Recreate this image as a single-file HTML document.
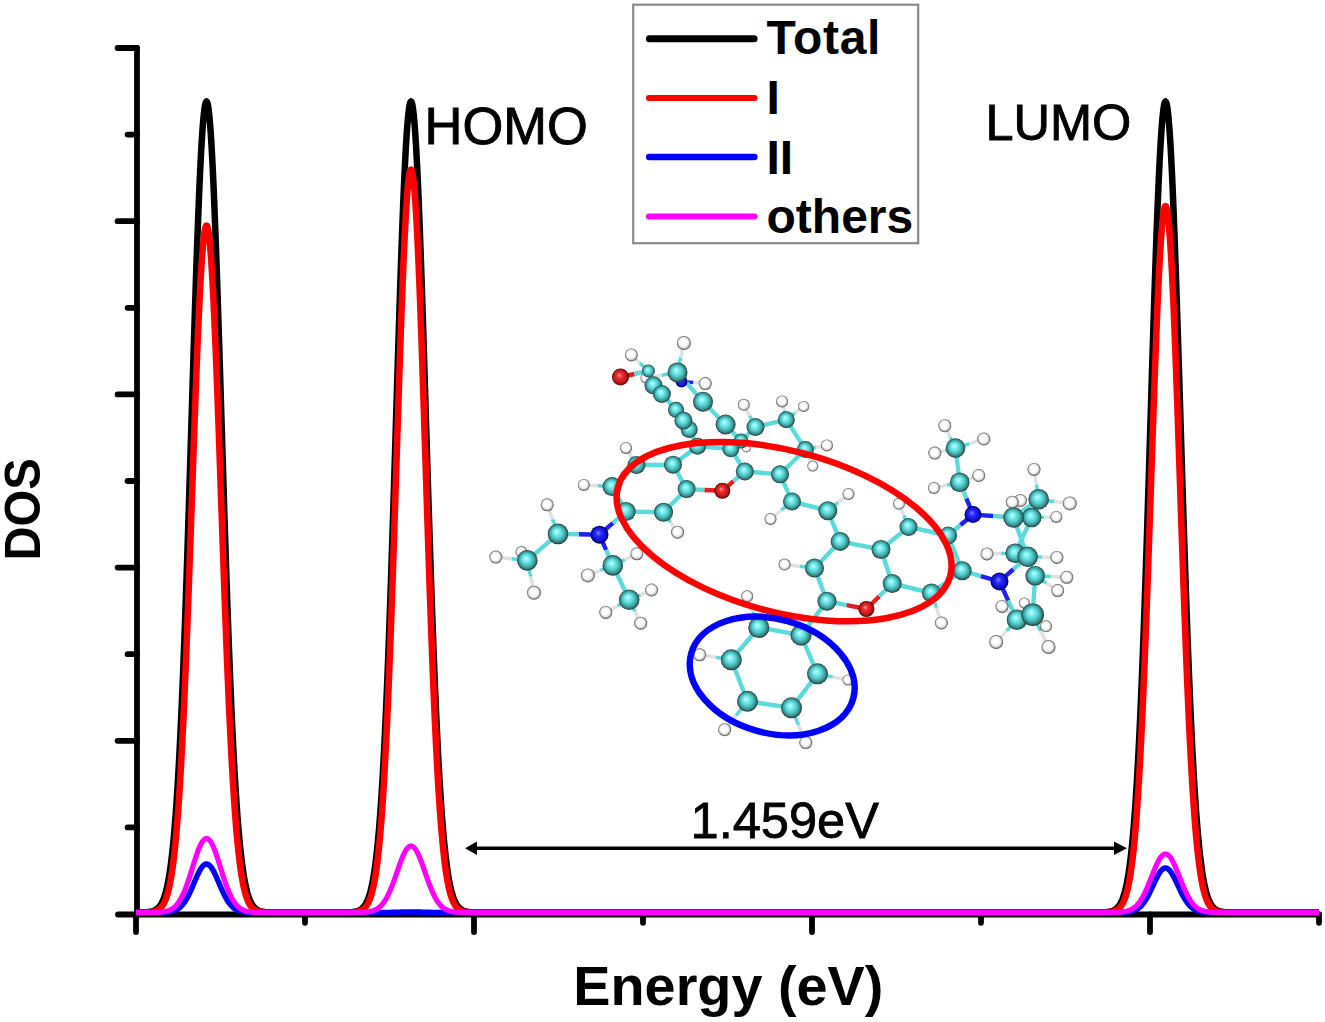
<!DOCTYPE html>
<html><head><meta charset="utf-8"><style>
html,body{margin:0;padding:0;background:#fff;}
body{width:1325px;height:1022px;overflow:hidden;}
svg{display:block;}
text{font-family:"Liberation Sans",sans-serif;}
</style></head><body>
<svg width="1325" height="1022" viewBox="0 0 1325 1022">
<rect width="1325" height="1022" fill="#fff"/>

<g stroke="#000" stroke-width="5.8" stroke-linecap="round" stroke-linejoin="round" fill="none">
<path d="M137,48 L137,914.5 L1319.1,914.5"/>
<path d="M117.6,48.0 L137,48.0"/>
<path d="M127.6,134.6 L137,134.6"/>
<path d="M117.6,221.2 L137,221.2"/>
<path d="M127.6,307.8 L137,307.8"/>
<path d="M117.6,394.4 L137,394.4"/>
<path d="M127.6,481.0 L137,481.0"/>
<path d="M117.6,567.6 L137,567.6"/>
<path d="M127.6,654.2 L137,654.2"/>
<path d="M117.6,740.8 L137,740.8"/>
<path d="M127.6,827.4 L137,827.4"/>
<path d="M136,914.5 L136,932"/>
<path d="M305,914.5 L305,922.8"/>
<path d="M474,914.5 L474,932"/>
<path d="M643,914.5 L643,922.8"/>
<path d="M812,914.5 L812,932"/>
<path d="M981,914.5 L981,922.8"/>
<path d="M1150,914.5 L1150,932"/>
<path d="M1319,914.5 L1319,922.8"/>
<path d="M118,914.5 L137,914.5"/>
</g>
<path d="M136.0,912.5 L144.0,912.4 L144.5,912.3 L145.0,912.3 L145.5,912.3 L146.0,912.3 L146.5,912.2 L147.0,912.2 L147.5,912.1 L148.0,912.1 L148.5,912.0 L149.0,912.0 L149.5,911.9 L150.0,911.8 L150.5,911.7 L151.0,911.6 L151.5,911.5 L152.0,911.4 L152.5,911.3 L153.0,911.1 L153.5,910.9 L154.0,910.7 L154.5,910.5 L155.0,910.3 L155.5,910.0 L156.0,909.7 L156.5,909.4 L157.0,909.0 L157.5,908.6 L158.0,908.1 L158.5,907.7 L159.0,907.1 L159.5,906.5 L160.0,905.9 L160.5,905.1 L161.0,904.4 L161.5,903.5 L162.0,902.5 L162.5,901.5 L163.0,900.4 L163.5,899.2 L164.0,897.9 L164.5,896.4 L165.0,894.8 L165.5,893.1 L166.0,891.3 L166.5,889.3 L167.0,887.2 L167.5,884.9 L168.0,882.4 L168.5,879.7 L169.0,876.9 L169.5,873.8 L170.0,870.5 L170.5,867.0 L171.0,863.2 L171.5,859.2 L172.0,854.9 L172.5,850.4 L173.0,845.5 L173.5,840.4 L174.0,834.9 L174.5,829.2 L175.0,823.1 L175.5,816.7 L176.0,809.9 L176.5,802.7 L177.0,795.2 L177.5,787.4 L178.0,779.1 L178.5,770.5 L179.0,761.4 L179.5,752.0 L180.0,742.2 L180.5,731.9 L181.0,721.3 L181.5,710.3 L182.0,698.8 L182.5,687.0 L183.0,674.8 L183.5,662.2 L184.0,649.2 L184.5,635.9 L185.0,622.2 L185.5,608.1 L186.0,593.8 L186.5,579.1 L187.0,564.1 L187.5,548.9 L188.0,533.4 L188.5,517.7 L189.0,501.9 L189.5,485.8 L190.0,469.6 L190.5,453.3 L191.0,437.0 L191.5,420.6 L192.0,404.2 L192.5,387.9 L193.0,371.6 L193.5,355.4 L194.0,339.4 L194.5,323.6 L195.0,308.0 L195.5,292.7 L196.0,277.7 L196.5,263.1 L197.0,248.9 L197.5,235.1 L198.0,221.8 L198.5,209.0 L199.0,196.8 L199.5,185.2 L200.0,174.2 L200.5,163.9 L201.0,154.2 L201.5,145.3 L202.0,137.2 L202.5,129.8 L203.0,123.3 L203.5,117.6 L204.0,112.7 L204.5,108.7 L205.0,105.5 L205.5,103.3 L206.0,102.0 L206.5,101.5 L207.0,102.0 L207.5,103.3 L208.0,105.5 L208.5,108.7 L209.0,112.7 L209.5,117.6 L210.0,123.3 L210.5,129.8 L211.0,137.2 L211.5,145.3 L212.0,154.2 L212.5,163.9 L213.0,174.2 L213.5,185.2 L214.0,196.8 L214.5,209.0 L215.0,221.8 L215.5,235.1 L216.0,248.9 L216.5,263.1 L217.0,277.7 L217.5,292.7 L218.0,308.0 L218.5,323.6 L219.0,339.4 L219.5,355.4 L220.0,371.6 L220.5,387.9 L221.0,404.2 L221.5,420.6 L222.0,437.0 L222.5,453.3 L223.0,469.6 L223.5,485.8 L224.0,501.9 L224.5,517.7 L225.0,533.4 L225.5,548.9 L226.0,564.1 L226.5,579.1 L227.0,593.8 L227.5,608.1 L228.0,622.2 L228.5,635.9 L229.0,649.2 L229.5,662.2 L230.0,674.8 L230.5,687.0 L231.0,698.8 L231.5,710.3 L232.0,721.3 L232.5,731.9 L233.0,742.2 L233.5,752.0 L234.0,761.4 L234.5,770.5 L235.0,779.1 L235.5,787.4 L236.0,795.2 L236.5,802.7 L237.0,809.9 L237.5,816.7 L238.0,823.1 L238.5,829.2 L239.0,834.9 L239.5,840.4 L240.0,845.5 L240.5,850.4 L241.0,854.9 L241.5,859.2 L242.0,863.2 L242.5,867.0 L243.0,870.5 L243.5,873.8 L244.0,876.9 L244.5,879.7 L245.0,882.4 L245.5,884.9 L246.0,887.2 L246.5,889.3 L247.0,891.3 L247.5,893.1 L248.0,894.8 L248.5,896.4 L249.0,897.9 L249.5,899.2 L250.0,900.4 L250.5,901.5 L251.0,902.5 L251.5,903.5 L252.0,904.4 L252.5,905.1 L253.0,905.9 L253.5,906.5 L254.0,907.1 L254.5,907.7 L255.0,908.1 L255.5,908.6 L256.0,909.0 L256.5,909.4 L257.0,909.7 L257.5,910.0 L258.0,910.3 L258.5,910.5 L259.0,910.7 L259.5,910.9 L260.0,911.1 L260.5,911.3 L261.0,911.4 L261.5,911.5 L262.0,911.6 L262.5,911.7 L263.0,911.8 L263.5,911.9 L264.0,912.0 L264.5,912.0 L265.0,912.1 L265.5,912.1 L266.0,912.2 L266.5,912.2 L267.0,912.3 L267.5,912.3 L268.0,912.3 L268.5,912.3 L269.0,912.4 L269.5,912.4 L270.0,912.4 L270.5,912.4 L271.0,912.4 L271.5,912.4 L272.0,912.4 L272.5,912.4 L273.0,912.5 L273.5,912.5 L274.0,912.5 L274.5,912.5 L275.0,912.5 L275.5,912.5 L276.0,912.5 L276.5,912.5 L284.5,912.5 L292.5,912.5 L300.5,912.5 L308.5,912.5 L316.5,912.5 L324.5,912.5 L332.5,912.5 L340.5,912.5 L348.5,912.4 L349.0,912.3 L349.5,912.3 L350.0,912.3 L350.5,912.3 L351.0,912.2 L351.5,912.2 L352.0,912.1 L352.5,912.1 L353.0,912.0 L353.5,912.0 L354.0,911.9 L354.5,911.8 L355.0,911.7 L355.5,911.6 L356.0,911.5 L356.5,911.4 L357.0,911.3 L357.5,911.1 L358.0,910.9 L358.5,910.7 L359.0,910.5 L359.5,910.3 L360.0,910.0 L360.5,909.7 L361.0,909.4 L361.5,909.0 L362.0,908.6 L362.5,908.1 L363.0,907.7 L363.5,907.1 L364.0,906.5 L364.5,905.9 L365.0,905.1 L365.5,904.4 L366.0,903.5 L366.5,902.5 L367.0,901.5 L367.5,900.4 L368.0,899.2 L368.5,897.9 L369.0,896.4 L369.5,894.8 L370.0,893.1 L370.5,891.3 L371.0,889.3 L371.5,887.2 L372.0,884.9 L372.5,882.4 L373.0,879.7 L373.5,876.9 L374.0,873.8 L374.5,870.5 L375.0,867.0 L375.5,863.2 L376.0,859.2 L376.5,854.9 L377.0,850.4 L377.5,845.5 L378.0,840.4 L378.5,834.9 L379.0,829.2 L379.5,823.1 L380.0,816.7 L380.5,809.9 L381.0,802.7 L381.5,795.2 L382.0,787.4 L382.5,779.1 L383.0,770.5 L383.5,761.4 L384.0,752.0 L384.5,742.2 L385.0,731.9 L385.5,721.3 L386.0,710.3 L386.5,698.8 L387.0,687.0 L387.5,674.8 L388.0,662.2 L388.5,649.2 L389.0,635.9 L389.5,622.2 L390.0,608.1 L390.5,593.8 L391.0,579.1 L391.5,564.1 L392.0,548.9 L392.5,533.4 L393.0,517.7 L393.5,501.9 L394.0,485.8 L394.5,469.6 L395.0,453.3 L395.5,437.0 L396.0,420.6 L396.5,404.2 L397.0,387.9 L397.5,371.6 L398.0,355.4 L398.5,339.4 L399.0,323.6 L399.5,308.0 L400.0,292.7 L400.5,277.7 L401.0,263.1 L401.5,248.9 L402.0,235.1 L402.5,221.8 L403.0,209.0 L403.5,196.8 L404.0,185.2 L404.5,174.2 L405.0,163.9 L405.5,154.2 L406.0,145.3 L406.5,137.2 L407.0,129.8 L407.5,123.3 L408.0,117.6 L408.5,112.7 L409.0,108.7 L409.5,105.5 L410.0,103.3 L410.5,102.0 L411.0,101.5 L411.5,102.0 L412.0,103.3 L412.5,105.5 L413.0,108.7 L413.5,112.7 L414.0,117.6 L414.5,123.3 L415.0,129.8 L415.5,137.2 L416.0,145.3 L416.5,154.2 L417.0,163.9 L417.5,174.2 L418.0,185.2 L418.5,196.8 L419.0,209.0 L419.5,221.8 L420.0,235.1 L420.5,248.9 L421.0,263.1 L421.5,277.7 L422.0,292.7 L422.5,308.0 L423.0,323.6 L423.5,339.4 L424.0,355.4 L424.5,371.6 L425.0,387.9 L425.5,404.2 L426.0,420.6 L426.5,437.0 L427.0,453.3 L427.5,469.6 L428.0,485.8 L428.5,501.9 L429.0,517.7 L429.5,533.4 L430.0,548.9 L430.5,564.1 L431.0,579.1 L431.5,593.8 L432.0,608.1 L432.5,622.2 L433.0,635.9 L433.5,649.2 L434.0,662.2 L434.5,674.8 L435.0,687.0 L435.5,698.8 L436.0,710.3 L436.5,721.3 L437.0,731.9 L437.5,742.2 L438.0,752.0 L438.5,761.4 L439.0,770.5 L439.5,779.1 L440.0,787.4 L440.5,795.2 L441.0,802.7 L441.5,809.9 L442.0,816.7 L442.5,823.1 L443.0,829.2 L443.5,834.9 L444.0,840.4 L444.5,845.5 L445.0,850.4 L445.5,854.9 L446.0,859.2 L446.5,863.2 L447.0,867.0 L447.5,870.5 L448.0,873.8 L448.5,876.9 L449.0,879.7 L449.5,882.4 L450.0,884.9 L450.5,887.2 L451.0,889.3 L451.5,891.3 L452.0,893.1 L452.5,894.8 L453.0,896.4 L453.5,897.9 L454.0,899.2 L454.5,900.4 L455.0,901.5 L455.5,902.5 L456.0,903.5 L456.5,904.4 L457.0,905.1 L457.5,905.9 L458.0,906.5 L458.5,907.1 L459.0,907.7 L459.5,908.1 L460.0,908.6 L460.5,909.0 L461.0,909.4 L461.5,909.7 L462.0,910.0 L462.5,910.3 L463.0,910.5 L463.5,910.7 L464.0,910.9 L464.5,911.1 L465.0,911.3 L465.5,911.4 L466.0,911.5 L466.5,911.6 L467.0,911.7 L467.5,911.8 L468.0,911.9 L468.5,912.0 L469.0,912.0 L469.5,912.1 L470.0,912.1 L470.5,912.2 L471.0,912.2 L471.5,912.3 L472.0,912.3 L472.5,912.3 L473.0,912.3 L473.5,912.4 L474.0,912.4 L474.5,912.4 L475.0,912.4 L475.5,912.4 L476.0,912.4 L476.5,912.4 L477.0,912.4 L477.5,912.5 L478.0,912.5 L478.5,912.5 L479.0,912.5 L479.5,912.5 L480.0,912.5 L480.5,912.5 L481.0,912.5 L489.0,912.5 L497.0,912.5 L505.0,912.5 L513.0,912.5 L521.0,912.5 L529.0,912.5 L537.0,912.5 L545.0,912.5 L553.0,912.5 L561.0,912.5 L569.0,912.5 L577.0,912.5 L585.0,912.5 L593.0,912.5 L601.0,912.5 L609.0,912.5 L617.0,912.5 L625.0,912.5 L633.0,912.5 L641.0,912.5 L649.0,912.5 L657.0,912.5 L665.0,912.5 L673.0,912.5 L681.0,912.5 L689.0,912.5 L697.0,912.5 L705.0,912.5 L713.0,912.5 L721.0,912.5 L729.0,912.5 L737.0,912.5 L745.0,912.5 L753.0,912.5 L761.0,912.5 L769.0,912.5 L777.0,912.5 L785.0,912.5 L793.0,912.5 L801.0,912.5 L809.0,912.5 L817.0,912.5 L825.0,912.5 L833.0,912.5 L841.0,912.5 L849.0,912.5 L857.0,912.5 L865.0,912.5 L873.0,912.5 L881.0,912.5 L889.0,912.5 L897.0,912.5 L905.0,912.5 L913.0,912.5 L921.0,912.5 L929.0,912.5 L937.0,912.5 L945.0,912.5 L953.0,912.5 L961.0,912.5 L969.0,912.5 L977.0,912.5 L985.0,912.5 L993.0,912.5 L1001.0,912.5 L1009.0,912.5 L1017.0,912.5 L1025.0,912.5 L1033.0,912.5 L1041.0,912.5 L1049.0,912.5 L1057.0,912.5 L1065.0,912.5 L1073.0,912.5 L1081.0,912.5 L1089.0,912.5 L1097.0,912.5 L1097.5,912.5 L1098.0,912.5 L1098.5,912.5 L1099.0,912.5 L1099.5,912.4 L1100.0,912.4 L1100.5,912.4 L1101.0,912.4 L1101.5,912.4 L1102.0,912.4 L1102.5,912.4 L1103.0,912.4 L1103.5,912.3 L1104.0,912.3 L1104.5,912.3 L1105.0,912.3 L1105.5,912.2 L1106.0,912.2 L1106.5,912.1 L1107.0,912.1 L1107.5,912.0 L1108.0,912.0 L1108.5,911.9 L1109.0,911.8 L1109.5,911.7 L1110.0,911.6 L1110.5,911.5 L1111.0,911.4 L1111.5,911.3 L1112.0,911.1 L1112.5,910.9 L1113.0,910.7 L1113.5,910.5 L1114.0,910.3 L1114.5,910.0 L1115.0,909.7 L1115.5,909.4 L1116.0,909.0 L1116.5,908.6 L1117.0,908.1 L1117.5,907.7 L1118.0,907.1 L1118.5,906.5 L1119.0,905.9 L1119.5,905.1 L1120.0,904.4 L1120.5,903.5 L1121.0,902.5 L1121.5,901.5 L1122.0,900.4 L1122.5,899.2 L1123.0,897.9 L1123.5,896.4 L1124.0,894.8 L1124.5,893.1 L1125.0,891.3 L1125.5,889.3 L1126.0,887.2 L1126.5,884.9 L1127.0,882.4 L1127.5,879.7 L1128.0,876.9 L1128.5,873.8 L1129.0,870.5 L1129.5,867.0 L1130.0,863.2 L1130.5,859.2 L1131.0,854.9 L1131.5,850.4 L1132.0,845.5 L1132.5,840.4 L1133.0,834.9 L1133.5,829.2 L1134.0,823.1 L1134.5,816.7 L1135.0,809.9 L1135.5,802.7 L1136.0,795.2 L1136.5,787.4 L1137.0,779.1 L1137.5,770.5 L1138.0,761.4 L1138.5,752.0 L1139.0,742.2 L1139.5,731.9 L1140.0,721.3 L1140.5,710.3 L1141.0,698.8 L1141.5,687.0 L1142.0,674.8 L1142.5,662.2 L1143.0,649.2 L1143.5,635.9 L1144.0,622.2 L1144.5,608.1 L1145.0,593.8 L1145.5,579.1 L1146.0,564.1 L1146.5,548.9 L1147.0,533.4 L1147.5,517.7 L1148.0,501.9 L1148.5,485.8 L1149.0,469.6 L1149.5,453.3 L1150.0,437.0 L1150.5,420.6 L1151.0,404.2 L1151.5,387.9 L1152.0,371.6 L1152.5,355.4 L1153.0,339.4 L1153.5,323.6 L1154.0,308.0 L1154.5,292.7 L1155.0,277.7 L1155.5,263.1 L1156.0,248.9 L1156.5,235.1 L1157.0,221.8 L1157.5,209.0 L1158.0,196.8 L1158.5,185.2 L1159.0,174.2 L1159.5,163.9 L1160.0,154.2 L1160.5,145.3 L1161.0,137.2 L1161.5,129.8 L1162.0,123.3 L1162.5,117.6 L1163.0,112.7 L1163.5,108.7 L1164.0,105.5 L1164.5,103.3 L1165.0,102.0 L1165.5,101.5 L1166.0,102.0 L1166.5,103.3 L1167.0,105.5 L1167.5,108.7 L1168.0,112.7 L1168.5,117.6 L1169.0,123.3 L1169.5,129.8 L1170.0,137.2 L1170.5,145.3 L1171.0,154.2 L1171.5,163.9 L1172.0,174.2 L1172.5,185.2 L1173.0,196.8 L1173.5,209.0 L1174.0,221.8 L1174.5,235.1 L1175.0,248.9 L1175.5,263.1 L1176.0,277.7 L1176.5,292.7 L1177.0,308.0 L1177.5,323.6 L1178.0,339.4 L1178.5,355.4 L1179.0,371.6 L1179.5,387.9 L1180.0,404.2 L1180.5,420.6 L1181.0,437.0 L1181.5,453.3 L1182.0,469.6 L1182.5,485.8 L1183.0,501.9 L1183.5,517.7 L1184.0,533.4 L1184.5,548.9 L1185.0,564.1 L1185.5,579.1 L1186.0,593.8 L1186.5,608.1 L1187.0,622.2 L1187.5,635.9 L1188.0,649.2 L1188.5,662.2 L1189.0,674.8 L1189.5,687.0 L1190.0,698.8 L1190.5,710.3 L1191.0,721.3 L1191.5,731.9 L1192.0,742.2 L1192.5,752.0 L1193.0,761.4 L1193.5,770.5 L1194.0,779.1 L1194.5,787.4 L1195.0,795.2 L1195.5,802.7 L1196.0,809.9 L1196.5,816.7 L1197.0,823.1 L1197.5,829.2 L1198.0,834.9 L1198.5,840.4 L1199.0,845.5 L1199.5,850.4 L1200.0,854.9 L1200.5,859.2 L1201.0,863.2 L1201.5,867.0 L1202.0,870.5 L1202.5,873.8 L1203.0,876.9 L1203.5,879.7 L1204.0,882.4 L1204.5,884.9 L1205.0,887.2 L1205.5,889.3 L1206.0,891.3 L1206.5,893.1 L1207.0,894.8 L1207.5,896.4 L1208.0,897.9 L1208.5,899.2 L1209.0,900.4 L1209.5,901.5 L1210.0,902.5 L1210.5,903.5 L1211.0,904.4 L1211.5,905.1 L1212.0,905.9 L1212.5,906.5 L1213.0,907.1 L1213.5,907.7 L1214.0,908.1 L1214.5,908.6 L1215.0,909.0 L1215.5,909.4 L1216.0,909.7 L1216.5,910.0 L1217.0,910.3 L1217.5,910.5 L1218.0,910.7 L1218.5,910.9 L1219.0,911.1 L1219.5,911.3 L1220.0,911.4 L1220.5,911.5 L1221.0,911.6 L1221.5,911.7 L1222.0,911.8 L1222.5,911.9 L1223.0,912.0 L1223.5,912.0 L1224.0,912.1 L1224.5,912.1 L1225.0,912.2 L1225.5,912.2 L1226.0,912.3 L1226.5,912.3 L1227.0,912.3 L1227.5,912.3 L1228.0,912.4 L1228.5,912.4 L1229.0,912.4 L1229.5,912.4 L1230.0,912.4 L1230.5,912.4 L1231.0,912.4 L1231.5,912.4 L1232.0,912.5 L1232.5,912.5 L1233.0,912.5 L1233.5,912.5 L1234.0,912.5 L1234.5,912.5 L1235.0,912.5 L1235.5,912.5 L1243.5,912.5 L1251.5,912.5 L1259.5,912.5 L1267.5,912.5 L1275.5,912.5 L1283.5,912.5 L1291.5,912.5 L1299.5,912.5 L1307.5,912.5 L1315.5,912.5 L1319.0,912.5" fill="none" stroke="#000" stroke-width="6.5" stroke-linejoin="round"/>
<path d="M136.0,912.5 L144.0,912.4 L144.5,912.4 L145.0,912.4 L145.5,912.4 L146.0,912.4 L146.5,912.4 L147.0,912.3 L147.5,912.3 L148.0,912.3 L148.5,912.3 L149.0,912.2 L149.5,912.2 L150.0,912.2 L150.5,912.1 L151.0,912.0 L151.5,912.0 L152.0,911.9 L152.5,911.8 L153.0,911.7 L153.5,911.6 L154.0,911.5 L154.5,911.4 L155.0,911.2 L155.5,911.1 L156.0,910.9 L156.5,910.7 L157.0,910.5 L157.5,910.2 L158.0,909.9 L158.5,909.6 L159.0,909.3 L159.5,908.9 L160.0,908.5 L160.5,908.0 L161.0,907.5 L161.5,906.9 L162.0,906.3 L162.5,905.6 L163.0,904.9 L163.5,904.0 L164.0,903.1 L164.5,902.1 L165.0,901.1 L165.5,899.9 L166.0,898.6 L166.5,897.2 L167.0,895.7 L167.5,894.0 L168.0,892.3 L168.5,890.3 L169.0,888.3 L169.5,886.0 L170.0,883.6 L170.5,881.0 L171.0,878.2 L171.5,875.2 L172.0,872.0 L172.5,868.5 L173.0,864.9 L173.5,860.9 L174.0,856.8 L174.5,852.3 L175.0,847.6 L175.5,842.6 L176.0,837.3 L176.5,831.7 L177.0,825.8 L177.5,819.5 L178.0,812.9 L178.5,806.0 L179.0,798.8 L179.5,791.1 L180.0,783.2 L180.5,774.8 L181.0,766.2 L181.5,757.1 L182.0,747.7 L182.5,737.9 L183.0,727.7 L183.5,717.2 L184.0,706.4 L184.5,695.2 L185.0,683.7 L185.5,671.8 L186.0,659.6 L186.5,647.1 L187.0,634.4 L187.5,621.4 L188.0,608.1 L188.5,594.6 L189.0,580.9 L189.5,567.0 L190.0,552.9 L190.5,538.8 L191.0,524.5 L191.5,510.2 L192.0,495.8 L192.5,481.5 L193.0,467.1 L193.5,452.9 L194.0,438.7 L194.5,424.7 L195.0,410.9 L195.5,397.3 L196.0,383.9 L196.5,370.9 L197.0,358.2 L197.5,345.9 L198.0,334.0 L198.5,322.5 L199.0,311.5 L199.5,301.1 L200.0,291.2 L200.5,281.9 L201.0,273.2 L201.5,265.2 L202.0,257.8 L202.5,251.1 L203.0,245.2 L203.5,240.0 L204.0,235.6 L204.5,232.0 L205.0,229.2 L205.5,227.1 L206.0,225.9 L206.5,225.5 L207.0,225.9 L207.5,227.1 L208.0,229.2 L208.5,232.0 L209.0,235.6 L209.5,240.0 L210.0,245.2 L210.5,251.1 L211.0,257.8 L211.5,265.2 L212.0,273.2 L212.5,281.9 L213.0,291.2 L213.5,301.1 L214.0,311.5 L214.5,322.5 L215.0,334.0 L215.5,345.9 L216.0,358.2 L216.5,370.9 L217.0,383.9 L217.5,397.3 L218.0,410.9 L218.5,424.7 L219.0,438.7 L219.5,452.9 L220.0,467.1 L220.5,481.5 L221.0,495.8 L221.5,510.2 L222.0,524.5 L222.5,538.8 L223.0,552.9 L223.5,567.0 L224.0,580.9 L224.5,594.6 L225.0,608.1 L225.5,621.4 L226.0,634.4 L226.5,647.1 L227.0,659.6 L227.5,671.8 L228.0,683.7 L228.5,695.2 L229.0,706.4 L229.5,717.2 L230.0,727.7 L230.5,737.9 L231.0,747.7 L231.5,757.1 L232.0,766.2 L232.5,774.8 L233.0,783.2 L233.5,791.1 L234.0,798.8 L234.5,806.0 L235.0,812.9 L235.5,819.5 L236.0,825.8 L236.5,831.7 L237.0,837.3 L237.5,842.6 L238.0,847.6 L238.5,852.3 L239.0,856.8 L239.5,860.9 L240.0,864.9 L240.5,868.5 L241.0,872.0 L241.5,875.2 L242.0,878.2 L242.5,881.0 L243.0,883.6 L243.5,886.0 L244.0,888.3 L244.5,890.3 L245.0,892.3 L245.5,894.0 L246.0,895.7 L246.5,897.2 L247.0,898.6 L247.5,899.9 L248.0,901.1 L248.5,902.1 L249.0,903.1 L249.5,904.0 L250.0,904.9 L250.5,905.6 L251.0,906.3 L251.5,906.9 L252.0,907.5 L252.5,908.0 L253.0,908.5 L253.5,908.9 L254.0,909.3 L254.5,909.6 L255.0,909.9 L255.5,910.2 L256.0,910.5 L256.5,910.7 L257.0,910.9 L257.5,911.1 L258.0,911.2 L258.5,911.4 L259.0,911.5 L259.5,911.6 L260.0,911.7 L260.5,911.8 L261.0,911.9 L261.5,912.0 L262.0,912.0 L262.5,912.1 L263.0,912.2 L263.5,912.2 L264.0,912.2 L264.5,912.3 L265.0,912.3 L265.5,912.3 L266.0,912.3 L266.5,912.4 L267.0,912.4 L267.5,912.4 L268.0,912.4 L268.5,912.4 L269.0,912.4 L269.5,912.4 L270.0,912.5 L270.5,912.5 L271.0,912.5 L271.5,912.5 L272.0,912.5 L272.5,912.5 L273.0,912.5 L273.5,912.5 L274.0,912.5 L274.5,912.5 L275.0,912.5 L275.5,912.5 L276.0,912.5 L276.5,912.5 L284.5,912.5 L292.5,912.5 L300.5,912.5 L308.5,912.5 L316.5,912.5 L324.5,912.5 L332.5,912.5 L340.5,912.5 L348.5,912.4 L349.0,912.4 L349.5,912.4 L350.0,912.4 L350.5,912.4 L351.0,912.4 L351.5,912.3 L352.0,912.3 L352.5,912.3 L353.0,912.3 L353.5,912.2 L354.0,912.2 L354.5,912.1 L355.0,912.1 L355.5,912.0 L356.0,911.9 L356.5,911.9 L357.0,911.8 L357.5,911.7 L358.0,911.6 L358.5,911.4 L359.0,911.3 L359.5,911.1 L360.0,911.0 L360.5,910.8 L361.0,910.6 L361.5,910.3 L362.0,910.0 L362.5,909.7 L363.0,909.4 L363.5,909.0 L364.0,908.6 L364.5,908.2 L365.0,907.7 L365.5,907.1 L366.0,906.5 L366.5,905.8 L367.0,905.1 L367.5,904.2 L368.0,903.4 L368.5,902.4 L369.0,901.3 L369.5,900.1 L370.0,898.9 L370.5,897.5 L371.0,896.0 L371.5,894.3 L372.0,892.5 L372.5,890.6 L373.0,888.5 L373.5,886.3 L374.0,883.9 L374.5,881.2 L375.0,878.4 L375.5,875.4 L376.0,872.2 L376.5,868.7 L377.0,865.0 L377.5,861.0 L378.0,856.7 L378.5,852.2 L379.0,847.4 L379.5,842.3 L380.0,836.9 L380.5,831.2 L381.0,825.1 L381.5,818.7 L382.0,811.9 L382.5,804.8 L383.0,797.3 L383.5,789.5 L384.0,781.3 L384.5,772.6 L385.0,763.6 L385.5,754.2 L386.0,744.4 L386.5,734.2 L387.0,723.7 L387.5,712.7 L388.0,701.3 L388.5,689.6 L389.0,677.5 L389.5,665.0 L390.0,652.2 L390.5,639.0 L391.0,625.5 L391.5,611.7 L392.0,597.6 L392.5,583.3 L393.0,568.7 L393.5,553.8 L394.0,538.8 L394.5,523.6 L395.0,508.3 L395.5,492.9 L396.0,477.4 L396.5,461.8 L397.0,446.3 L397.5,430.8 L398.0,415.4 L398.5,400.1 L399.0,384.9 L399.5,370.0 L400.0,355.3 L400.5,340.9 L401.0,326.8 L401.5,313.0 L402.0,299.7 L402.5,286.8 L403.0,274.4 L403.5,262.5 L404.0,251.2 L404.5,240.5 L405.0,230.5 L405.5,221.1 L406.0,212.4 L406.5,204.4 L407.0,197.2 L407.5,190.8 L408.0,185.2 L408.5,180.5 L409.0,176.5 L409.5,173.5 L410.0,171.3 L410.5,169.9 L411.0,169.5 L411.5,169.9 L412.0,171.3 L412.5,173.5 L413.0,176.5 L413.5,180.5 L414.0,185.2 L414.5,190.8 L415.0,197.2 L415.5,204.4 L416.0,212.4 L416.5,221.1 L417.0,230.5 L417.5,240.5 L418.0,251.2 L418.5,262.5 L419.0,274.4 L419.5,286.8 L420.0,299.7 L420.5,313.0 L421.0,326.8 L421.5,340.9 L422.0,355.3 L422.5,370.0 L423.0,384.9 L423.5,400.1 L424.0,415.4 L424.5,430.8 L425.0,446.3 L425.5,461.8 L426.0,477.4 L426.5,492.9 L427.0,508.3 L427.5,523.6 L428.0,538.8 L428.5,553.8 L429.0,568.7 L429.5,583.3 L430.0,597.6 L430.5,611.7 L431.0,625.5 L431.5,639.0 L432.0,652.2 L432.5,665.0 L433.0,677.5 L433.5,689.6 L434.0,701.3 L434.5,712.7 L435.0,723.7 L435.5,734.2 L436.0,744.4 L436.5,754.2 L437.0,763.6 L437.5,772.6 L438.0,781.3 L438.5,789.5 L439.0,797.3 L439.5,804.8 L440.0,811.9 L440.5,818.7 L441.0,825.1 L441.5,831.2 L442.0,836.9 L442.5,842.3 L443.0,847.4 L443.5,852.2 L444.0,856.7 L444.5,861.0 L445.0,865.0 L445.5,868.7 L446.0,872.2 L446.5,875.4 L447.0,878.4 L447.5,881.2 L448.0,883.9 L448.5,886.3 L449.0,888.5 L449.5,890.6 L450.0,892.5 L450.5,894.3 L451.0,896.0 L451.5,897.5 L452.0,898.9 L452.5,900.1 L453.0,901.3 L453.5,902.4 L454.0,903.4 L454.5,904.2 L455.0,905.1 L455.5,905.8 L456.0,906.5 L456.5,907.1 L457.0,907.7 L457.5,908.2 L458.0,908.6 L458.5,909.0 L459.0,909.4 L459.5,909.7 L460.0,910.0 L460.5,910.3 L461.0,910.6 L461.5,910.8 L462.0,911.0 L462.5,911.1 L463.0,911.3 L463.5,911.4 L464.0,911.6 L464.5,911.7 L465.0,911.8 L465.5,911.9 L466.0,911.9 L466.5,912.0 L467.0,912.1 L467.5,912.1 L468.0,912.2 L468.5,912.2 L469.0,912.3 L469.5,912.3 L470.0,912.3 L470.5,912.3 L471.0,912.4 L471.5,912.4 L472.0,912.4 L472.5,912.4 L473.0,912.4 L473.5,912.4 L474.0,912.4 L474.5,912.4 L475.0,912.5 L475.5,912.5 L476.0,912.5 L476.5,912.5 L477.0,912.5 L477.5,912.5 L478.0,912.5 L478.5,912.5 L479.0,912.5 L479.5,912.5 L480.0,912.5 L480.5,912.5 L481.0,912.5 L489.0,912.5 L497.0,912.5 L505.0,912.5 L513.0,912.5 L521.0,912.5 L529.0,912.5 L537.0,912.5 L545.0,912.5 L553.0,912.5 L561.0,912.5 L569.0,912.5 L577.0,912.5 L585.0,912.5 L593.0,912.5 L601.0,912.5 L609.0,912.5 L617.0,912.5 L625.0,912.5 L633.0,912.5 L641.0,912.5 L649.0,912.5 L657.0,912.5 L665.0,912.5 L673.0,912.5 L681.0,912.5 L689.0,912.5 L697.0,912.5 L705.0,912.5 L713.0,912.5 L721.0,912.5 L729.0,912.5 L737.0,912.5 L745.0,912.5 L753.0,912.5 L761.0,912.5 L769.0,912.5 L777.0,912.5 L785.0,912.5 L793.0,912.5 L801.0,912.5 L809.0,912.5 L817.0,912.5 L825.0,912.5 L833.0,912.5 L841.0,912.5 L849.0,912.5 L857.0,912.5 L865.0,912.5 L873.0,912.5 L881.0,912.5 L889.0,912.5 L897.0,912.5 L905.0,912.5 L913.0,912.5 L921.0,912.5 L929.0,912.5 L937.0,912.5 L945.0,912.5 L953.0,912.5 L961.0,912.5 L969.0,912.5 L977.0,912.5 L985.0,912.5 L993.0,912.5 L1001.0,912.5 L1009.0,912.5 L1017.0,912.5 L1025.0,912.5 L1033.0,912.5 L1041.0,912.5 L1049.0,912.5 L1057.0,912.5 L1065.0,912.5 L1073.0,912.5 L1081.0,912.5 L1089.0,912.5 L1097.0,912.5 L1097.5,912.5 L1098.0,912.5 L1098.5,912.5 L1099.0,912.5 L1099.5,912.5 L1100.0,912.5 L1100.5,912.5 L1101.0,912.5 L1101.5,912.5 L1102.0,912.5 L1102.5,912.4 L1103.0,912.4 L1103.5,912.4 L1104.0,912.4 L1104.5,912.4 L1105.0,912.4 L1105.5,912.4 L1106.0,912.3 L1106.5,912.3 L1107.0,912.3 L1107.5,912.3 L1108.0,912.2 L1108.5,912.2 L1109.0,912.1 L1109.5,912.1 L1110.0,912.0 L1110.5,912.0 L1111.0,911.9 L1111.5,911.8 L1112.0,911.7 L1112.5,911.6 L1113.0,911.5 L1113.5,911.4 L1114.0,911.2 L1114.5,911.0 L1115.0,910.9 L1115.5,910.7 L1116.0,910.4 L1116.5,910.2 L1117.0,909.9 L1117.5,909.6 L1118.0,909.2 L1118.5,908.8 L1119.0,908.4 L1119.5,907.9 L1120.0,907.4 L1120.5,906.8 L1121.0,906.1 L1121.5,905.4 L1122.0,904.7 L1122.5,903.8 L1123.0,902.9 L1123.5,901.9 L1124.0,900.7 L1124.5,899.5 L1125.0,898.2 L1125.5,896.8 L1126.0,895.2 L1126.5,893.5 L1127.0,891.7 L1127.5,889.7 L1128.0,887.6 L1128.5,885.3 L1129.0,882.8 L1129.5,880.1 L1130.0,877.2 L1130.5,874.1 L1131.0,870.8 L1131.5,867.3 L1132.0,863.5 L1132.5,859.5 L1133.0,855.2 L1133.5,850.6 L1134.0,845.8 L1134.5,840.6 L1135.0,835.2 L1135.5,829.4 L1136.0,823.3 L1136.5,816.9 L1137.0,810.1 L1137.5,803.0 L1138.0,795.5 L1138.5,787.7 L1139.0,779.5 L1139.5,770.9 L1140.0,762.0 L1140.5,752.7 L1141.0,743.0 L1141.5,732.9 L1142.0,722.5 L1142.5,711.7 L1143.0,700.5 L1143.5,689.0 L1144.0,677.2 L1144.5,665.0 L1145.0,652.4 L1145.5,639.6 L1146.0,626.5 L1146.5,613.1 L1147.0,599.4 L1147.5,585.5 L1148.0,571.5 L1148.5,557.2 L1149.0,542.7 L1149.5,528.2 L1150.0,513.5 L1150.5,498.8 L1151.0,484.0 L1151.5,469.2 L1152.0,454.5 L1152.5,439.8 L1153.0,425.3 L1153.5,410.9 L1154.0,396.6 L1154.5,382.7 L1155.0,368.9 L1155.5,355.5 L1156.0,342.5 L1156.5,329.8 L1157.0,317.5 L1157.5,305.7 L1158.0,294.5 L1158.5,283.7 L1159.0,273.5 L1159.5,264.0 L1160.0,255.0 L1160.5,246.8 L1161.0,239.2 L1161.5,232.4 L1162.0,226.3 L1162.5,221.0 L1163.0,216.4 L1163.5,212.7 L1164.0,209.8 L1164.5,207.7 L1165.0,206.4 L1165.5,206.0 L1166.0,206.4 L1166.5,207.7 L1167.0,209.8 L1167.5,212.7 L1168.0,216.4 L1168.5,221.0 L1169.0,226.3 L1169.5,232.4 L1170.0,239.2 L1170.5,246.8 L1171.0,255.0 L1171.5,264.0 L1172.0,273.5 L1172.5,283.7 L1173.0,294.5 L1173.5,305.7 L1174.0,317.5 L1174.5,329.8 L1175.0,342.5 L1175.5,355.5 L1176.0,368.9 L1176.5,382.7 L1177.0,396.6 L1177.5,410.9 L1178.0,425.3 L1178.5,439.8 L1179.0,454.5 L1179.5,469.2 L1180.0,484.0 L1180.5,498.8 L1181.0,513.5 L1181.5,528.2 L1182.0,542.7 L1182.5,557.2 L1183.0,571.5 L1183.5,585.5 L1184.0,599.4 L1184.5,613.1 L1185.0,626.5 L1185.5,639.6 L1186.0,652.4 L1186.5,665.0 L1187.0,677.2 L1187.5,689.0 L1188.0,700.5 L1188.5,711.7 L1189.0,722.5 L1189.5,732.9 L1190.0,743.0 L1190.5,752.7 L1191.0,762.0 L1191.5,770.9 L1192.0,779.5 L1192.5,787.7 L1193.0,795.5 L1193.5,803.0 L1194.0,810.1 L1194.5,816.9 L1195.0,823.3 L1195.5,829.4 L1196.0,835.2 L1196.5,840.6 L1197.0,845.8 L1197.5,850.6 L1198.0,855.2 L1198.5,859.5 L1199.0,863.5 L1199.5,867.3 L1200.0,870.8 L1200.5,874.1 L1201.0,877.2 L1201.5,880.1 L1202.0,882.8 L1202.5,885.3 L1203.0,887.6 L1203.5,889.7 L1204.0,891.7 L1204.5,893.5 L1205.0,895.2 L1205.5,896.8 L1206.0,898.2 L1206.5,899.5 L1207.0,900.7 L1207.5,901.9 L1208.0,902.9 L1208.5,903.8 L1209.0,904.7 L1209.5,905.4 L1210.0,906.1 L1210.5,906.8 L1211.0,907.4 L1211.5,907.9 L1212.0,908.4 L1212.5,908.8 L1213.0,909.2 L1213.5,909.6 L1214.0,909.9 L1214.5,910.2 L1215.0,910.4 L1215.5,910.7 L1216.0,910.9 L1216.5,911.0 L1217.0,911.2 L1217.5,911.4 L1218.0,911.5 L1218.5,911.6 L1219.0,911.7 L1219.5,911.8 L1220.0,911.9 L1220.5,912.0 L1221.0,912.0 L1221.5,912.1 L1222.0,912.1 L1222.5,912.2 L1223.0,912.2 L1223.5,912.3 L1224.0,912.3 L1224.5,912.3 L1225.0,912.3 L1225.5,912.4 L1226.0,912.4 L1226.5,912.4 L1227.0,912.4 L1227.5,912.4 L1228.0,912.4 L1228.5,912.4 L1229.0,912.5 L1229.5,912.5 L1230.0,912.5 L1230.5,912.5 L1231.0,912.5 L1231.5,912.5 L1232.0,912.5 L1232.5,912.5 L1233.0,912.5 L1233.5,912.5 L1234.0,912.5 L1234.5,912.5 L1235.0,912.5 L1235.5,912.5 L1243.5,912.5 L1251.5,912.5 L1259.5,912.5 L1267.5,912.5 L1275.5,912.5 L1283.5,912.5 L1291.5,912.5 L1299.5,912.5 L1307.5,912.5 L1315.5,912.5 L1319.0,912.5" fill="none" stroke="#f00" stroke-width="6.5" stroke-linejoin="round"/>
<path d="M136.0,912.5 L144.0,912.5 L144.5,912.5 L145.0,912.5 L145.5,912.5 L146.0,912.5 L146.5,912.5 L147.0,912.5 L147.5,912.5 L148.0,912.5 L148.5,912.5 L149.0,912.5 L149.5,912.5 L150.0,912.5 L150.5,912.5 L151.0,912.5 L151.5,912.5 L152.0,912.5 L152.5,912.5 L153.0,912.5 L153.5,912.5 L154.0,912.5 L154.5,912.5 L155.0,912.5 L155.5,912.5 L156.0,912.5 L156.5,912.5 L157.0,912.5 L157.5,912.5 L158.0,912.5 L158.5,912.5 L159.0,912.5 L159.5,912.5 L160.0,912.5 L160.5,912.4 L161.0,912.4 L161.5,912.4 L162.0,912.4 L162.5,912.4 L163.0,912.4 L163.5,912.4 L164.0,912.4 L164.5,912.3 L165.0,912.3 L165.5,912.3 L166.0,912.2 L166.5,912.2 L167.0,912.2 L167.5,912.1 L168.0,912.1 L168.5,912.0 L169.0,912.0 L169.5,911.9 L170.0,911.8 L170.5,911.7 L171.0,911.6 L171.5,911.5 L172.0,911.4 L172.5,911.3 L173.0,911.2 L173.5,911.0 L174.0,910.8 L174.5,910.7 L175.0,910.5 L175.5,910.3 L176.0,910.0 L176.5,909.8 L177.0,909.5 L177.5,909.2 L178.0,908.9 L178.5,908.6 L179.0,908.2 L179.5,907.8 L180.0,907.4 L180.5,906.9 L181.0,906.4 L181.5,905.9 L182.0,905.4 L182.5,904.8 L183.0,904.2 L183.5,903.6 L184.0,902.9 L184.5,902.2 L185.0,901.5 L185.5,900.7 L186.0,899.9 L186.5,899.0 L187.0,898.1 L187.5,897.2 L188.0,896.3 L188.5,895.3 L189.0,894.3 L189.5,893.3 L190.0,892.2 L190.5,891.1 L191.0,890.0 L191.5,888.9 L192.0,887.8 L192.5,886.6 L193.0,885.4 L193.5,884.3 L194.0,883.1 L194.5,881.9 L195.0,880.7 L195.5,879.6 L196.0,878.4 L196.5,877.3 L197.0,876.2 L197.5,875.1 L198.0,874.0 L198.5,873.0 L199.0,872.0 L199.5,871.0 L200.0,870.1 L200.5,869.3 L201.0,868.5 L201.5,867.7 L202.0,867.0 L202.5,866.4 L203.0,865.9 L203.5,865.4 L204.0,865.0 L204.5,864.6 L205.0,864.3 L205.5,864.2 L206.0,864.0 L206.5,864.0 L207.0,864.0 L207.5,864.2 L208.0,864.3 L208.5,864.6 L209.0,865.0 L209.5,865.4 L210.0,865.9 L210.5,866.4 L211.0,867.0 L211.5,867.7 L212.0,868.5 L212.5,869.3 L213.0,870.1 L213.5,871.0 L214.0,872.0 L214.5,873.0 L215.0,874.0 L215.5,875.1 L216.0,876.2 L216.5,877.3 L217.0,878.4 L217.5,879.6 L218.0,880.7 L218.5,881.9 L219.0,883.1 L219.5,884.3 L220.0,885.4 L220.5,886.6 L221.0,887.8 L221.5,888.9 L222.0,890.0 L222.5,891.1 L223.0,892.2 L223.5,893.3 L224.0,894.3 L224.5,895.3 L225.0,896.3 L225.5,897.2 L226.0,898.1 L226.5,899.0 L227.0,899.9 L227.5,900.7 L228.0,901.5 L228.5,902.2 L229.0,902.9 L229.5,903.6 L230.0,904.2 L230.5,904.8 L231.0,905.4 L231.5,905.9 L232.0,906.4 L232.5,906.9 L233.0,907.4 L233.5,907.8 L234.0,908.2 L234.5,908.6 L235.0,908.9 L235.5,909.2 L236.0,909.5 L236.5,909.8 L237.0,910.0 L237.5,910.3 L238.0,910.5 L238.5,910.7 L239.0,910.8 L239.5,911.0 L240.0,911.2 L240.5,911.3 L241.0,911.4 L241.5,911.5 L242.0,911.6 L242.5,911.7 L243.0,911.8 L243.5,911.9 L244.0,912.0 L244.5,912.0 L245.0,912.1 L245.5,912.1 L246.0,912.2 L246.5,912.2 L247.0,912.2 L247.5,912.3 L248.0,912.3 L248.5,912.3 L249.0,912.4 L249.5,912.4 L250.0,912.4 L250.5,912.4 L251.0,912.4 L251.5,912.4 L252.0,912.4 L252.5,912.4 L253.0,912.5 L253.5,912.5 L254.0,912.5 L254.5,912.5 L255.0,912.5 L255.5,912.5 L256.0,912.5 L256.5,912.5 L257.0,912.5 L257.5,912.5 L258.0,912.5 L258.5,912.5 L259.0,912.5 L259.5,912.5 L260.0,912.5 L260.5,912.5 L261.0,912.5 L261.5,912.5 L262.0,912.5 L262.5,912.5 L263.0,912.5 L263.5,912.5 L264.0,912.5 L264.5,912.5 L265.0,912.5 L265.5,912.5 L266.0,912.5 L266.5,912.5 L267.0,912.5 L267.5,912.5 L268.0,912.5 L268.5,912.5 L269.0,912.5 L269.5,912.5 L270.0,912.5 L270.5,912.5 L271.0,912.5 L271.5,912.5 L272.0,912.5 L272.5,912.5 L273.0,912.5 L273.5,912.5 L274.0,912.5 L274.5,912.5 L275.0,912.5 L275.5,912.5 L276.0,912.5 L276.5,912.5 L284.5,912.5 L292.5,912.5 L300.5,912.5 L308.5,912.5 L316.5,912.5 L324.5,912.5 L332.5,912.5 L340.5,912.5 L348.5,912.5 L349.0,912.5 L349.5,912.5 L350.0,912.5 L350.5,912.5 L351.0,912.5 L351.5,912.5 L352.0,912.5 L352.5,912.5 L353.0,912.5 L353.5,912.5 L354.0,912.5 L354.5,912.5 L355.0,912.5 L355.5,912.5 L356.0,912.5 L356.5,912.5 L357.0,912.5 L357.5,912.5 L358.0,912.5 L358.5,912.5 L359.0,912.5 L359.5,912.5 L360.0,912.5 L360.5,912.5 L361.0,912.5 L361.5,912.5 L362.0,912.5 L362.5,912.5 L363.0,912.5 L363.5,912.5 L364.0,912.5 L364.5,912.5 L365.0,912.5 L365.5,912.5 L366.0,912.5 L366.5,912.5 L367.0,912.5 L367.5,912.5 L368.0,912.5 L368.5,912.5 L369.0,912.5 L369.5,912.5 L370.0,912.5 L370.5,912.5 L371.0,912.5 L371.5,912.5 L372.0,912.5 L372.5,912.5 L373.0,912.5 L373.5,912.5 L374.0,912.5 L374.5,912.5 L375.0,912.5 L375.5,912.5 L376.0,912.5 L376.5,912.5 L377.0,912.5 L377.5,912.5 L378.0,912.5 L378.5,912.5 L379.0,912.5 L379.5,912.5 L380.0,912.5 L380.5,912.5 L381.0,912.5 L381.5,912.5 L382.0,912.5 L382.5,912.5 L383.0,912.5 L383.5,912.5 L384.0,912.5 L384.5,912.4 L385.0,912.4 L385.5,912.4 L386.0,912.4 L386.5,912.4 L387.0,912.4 L387.5,912.4 L388.0,912.4 L388.5,912.4 L389.0,912.4 L389.5,912.4 L390.0,912.4 L390.5,912.4 L391.0,912.4 L391.5,912.4 L392.0,912.3 L392.5,912.3 L393.0,912.3 L393.5,912.3 L394.0,912.3 L394.5,912.3 L395.0,912.3 L395.5,912.3 L396.0,912.3 L396.5,912.2 L397.0,912.2 L397.5,912.2 L398.0,912.2 L398.5,912.2 L399.0,912.2 L399.5,912.2 L400.0,912.2 L400.5,912.1 L401.0,912.1 L401.5,912.1 L402.0,912.1 L402.5,912.1 L403.0,912.1 L403.5,912.1 L404.0,912.1 L404.5,912.1 L405.0,912.1 L405.5,912.0 L406.0,912.0 L406.5,912.0 L407.0,912.0 L407.5,912.0 L408.0,912.0 L408.5,912.0 L409.0,912.0 L409.5,912.0 L410.0,912.0 L410.5,912.0 L411.0,912.0 L411.5,912.0 L412.0,912.0 L412.5,912.0 L413.0,912.0 L413.5,912.0 L414.0,912.0 L414.5,912.0 L415.0,912.0 L415.5,912.0 L416.0,912.0 L416.5,912.0 L417.0,912.1 L417.5,912.1 L418.0,912.1 L418.5,912.1 L419.0,912.1 L419.5,912.1 L420.0,912.1 L420.5,912.1 L421.0,912.1 L421.5,912.1 L422.0,912.2 L422.5,912.2 L423.0,912.2 L423.5,912.2 L424.0,912.2 L424.5,912.2 L425.0,912.2 L425.5,912.2 L426.0,912.3 L426.5,912.3 L427.0,912.3 L427.5,912.3 L428.0,912.3 L428.5,912.3 L429.0,912.3 L429.5,912.3 L430.0,912.3 L430.5,912.4 L431.0,912.4 L431.5,912.4 L432.0,912.4 L432.5,912.4 L433.0,912.4 L433.5,912.4 L434.0,912.4 L434.5,912.4 L435.0,912.4 L435.5,912.4 L436.0,912.4 L436.5,912.4 L437.0,912.4 L437.5,912.4 L438.0,912.5 L438.5,912.5 L439.0,912.5 L439.5,912.5 L440.0,912.5 L440.5,912.5 L441.0,912.5 L441.5,912.5 L442.0,912.5 L442.5,912.5 L443.0,912.5 L443.5,912.5 L444.0,912.5 L444.5,912.5 L445.0,912.5 L445.5,912.5 L446.0,912.5 L446.5,912.5 L447.0,912.5 L447.5,912.5 L448.0,912.5 L448.5,912.5 L449.0,912.5 L449.5,912.5 L450.0,912.5 L450.5,912.5 L451.0,912.5 L451.5,912.5 L452.0,912.5 L452.5,912.5 L453.0,912.5 L453.5,912.5 L454.0,912.5 L454.5,912.5 L455.0,912.5 L455.5,912.5 L456.0,912.5 L456.5,912.5 L457.0,912.5 L457.5,912.5 L458.0,912.5 L458.5,912.5 L459.0,912.5 L459.5,912.5 L460.0,912.5 L460.5,912.5 L461.0,912.5 L461.5,912.5 L462.0,912.5 L462.5,912.5 L463.0,912.5 L463.5,912.5 L464.0,912.5 L464.5,912.5 L465.0,912.5 L465.5,912.5 L466.0,912.5 L466.5,912.5 L467.0,912.5 L467.5,912.5 L468.0,912.5 L468.5,912.5 L469.0,912.5 L469.5,912.5 L470.0,912.5 L470.5,912.5 L471.0,912.5 L471.5,912.5 L472.0,912.5 L472.5,912.5 L473.0,912.5 L473.5,912.5 L474.0,912.5 L474.5,912.5 L475.0,912.5 L475.5,912.5 L476.0,912.5 L476.5,912.5 L477.0,912.5 L477.5,912.5 L478.0,912.5 L478.5,912.5 L479.0,912.5 L479.5,912.5 L480.0,912.5 L480.5,912.5 L481.0,912.5 L489.0,912.5 L497.0,912.5 L505.0,912.5 L513.0,912.5 L521.0,912.5 L529.0,912.5 L537.0,912.5 L545.0,912.5 L553.0,912.5 L561.0,912.5 L569.0,912.5 L577.0,912.5 L585.0,912.5 L593.0,912.5 L601.0,912.5 L609.0,912.5 L617.0,912.5 L625.0,912.5 L633.0,912.5 L641.0,912.5 L649.0,912.5 L657.0,912.5 L665.0,912.5 L673.0,912.5 L681.0,912.5 L689.0,912.5 L697.0,912.5 L705.0,912.5 L713.0,912.5 L721.0,912.5 L729.0,912.5 L737.0,912.5 L745.0,912.5 L753.0,912.5 L761.0,912.5 L769.0,912.5 L777.0,912.5 L785.0,912.5 L793.0,912.5 L801.0,912.5 L809.0,912.5 L817.0,912.5 L825.0,912.5 L833.0,912.5 L841.0,912.5 L849.0,912.5 L857.0,912.5 L865.0,912.5 L873.0,912.5 L881.0,912.5 L889.0,912.5 L897.0,912.5 L905.0,912.5 L913.0,912.5 L921.0,912.5 L929.0,912.5 L937.0,912.5 L945.0,912.5 L953.0,912.5 L961.0,912.5 L969.0,912.5 L977.0,912.5 L985.0,912.5 L993.0,912.5 L1001.0,912.5 L1009.0,912.5 L1017.0,912.5 L1025.0,912.5 L1033.0,912.5 L1041.0,912.5 L1049.0,912.5 L1057.0,912.5 L1065.0,912.5 L1073.0,912.5 L1081.0,912.5 L1089.0,912.5 L1097.0,912.5 L1097.5,912.5 L1098.0,912.5 L1098.5,912.5 L1099.0,912.5 L1099.5,912.5 L1100.0,912.5 L1100.5,912.5 L1101.0,912.5 L1101.5,912.5 L1102.0,912.5 L1102.5,912.5 L1103.0,912.5 L1103.5,912.5 L1104.0,912.5 L1104.5,912.5 L1105.0,912.5 L1105.5,912.5 L1106.0,912.5 L1106.5,912.5 L1107.0,912.5 L1107.5,912.5 L1108.0,912.5 L1108.5,912.5 L1109.0,912.5 L1109.5,912.5 L1110.0,912.5 L1110.5,912.5 L1111.0,912.5 L1111.5,912.5 L1112.0,912.5 L1112.5,912.5 L1113.0,912.5 L1113.5,912.5 L1114.0,912.5 L1114.5,912.5 L1115.0,912.5 L1115.5,912.5 L1116.0,912.5 L1116.5,912.5 L1117.0,912.5 L1117.5,912.5 L1118.0,912.5 L1118.5,912.5 L1119.0,912.5 L1119.5,912.4 L1120.0,912.4 L1120.5,912.4 L1121.0,912.4 L1121.5,912.4 L1122.0,912.4 L1122.5,912.4 L1123.0,912.4 L1123.5,912.3 L1124.0,912.3 L1124.5,912.3 L1125.0,912.3 L1125.5,912.2 L1126.0,912.2 L1126.5,912.2 L1127.0,912.1 L1127.5,912.1 L1128.0,912.0 L1128.5,911.9 L1129.0,911.9 L1129.5,911.8 L1130.0,911.7 L1130.5,911.6 L1131.0,911.5 L1131.5,911.4 L1132.0,911.3 L1132.5,911.1 L1133.0,911.0 L1133.5,910.8 L1134.0,910.6 L1134.5,910.4 L1135.0,910.2 L1135.5,910.0 L1136.0,909.8 L1136.5,909.5 L1137.0,909.2 L1137.5,908.9 L1138.0,908.5 L1138.5,908.2 L1139.0,907.8 L1139.5,907.4 L1140.0,906.9 L1140.5,906.5 L1141.0,906.0 L1141.5,905.5 L1142.0,904.9 L1142.5,904.3 L1143.0,903.7 L1143.5,903.0 L1144.0,902.4 L1144.5,901.6 L1145.0,900.9 L1145.5,900.1 L1146.0,899.3 L1146.5,898.5 L1147.0,897.6 L1147.5,896.7 L1148.0,895.8 L1148.5,894.9 L1149.0,893.9 L1149.5,892.9 L1150.0,891.9 L1150.5,890.8 L1151.0,889.8 L1151.5,888.7 L1152.0,887.7 L1152.5,886.6 L1153.0,885.5 L1153.5,884.4 L1154.0,883.4 L1154.5,882.3 L1155.0,881.2 L1155.5,880.2 L1156.0,879.2 L1156.5,878.2 L1157.0,877.2 L1157.5,876.2 L1158.0,875.3 L1158.5,874.5 L1159.0,873.6 L1159.5,872.8 L1160.0,872.1 L1160.5,871.4 L1161.0,870.8 L1161.5,870.2 L1162.0,869.7 L1162.5,869.3 L1163.0,868.9 L1163.5,868.6 L1164.0,868.3 L1164.5,868.1 L1165.0,868.0 L1165.5,868.0 L1166.0,868.0 L1166.5,868.1 L1167.0,868.3 L1167.5,868.6 L1168.0,868.9 L1168.5,869.3 L1169.0,869.7 L1169.5,870.2 L1170.0,870.8 L1170.5,871.4 L1171.0,872.1 L1171.5,872.8 L1172.0,873.6 L1172.5,874.5 L1173.0,875.3 L1173.5,876.2 L1174.0,877.2 L1174.5,878.2 L1175.0,879.2 L1175.5,880.2 L1176.0,881.2 L1176.5,882.3 L1177.0,883.4 L1177.5,884.4 L1178.0,885.5 L1178.5,886.6 L1179.0,887.7 L1179.5,888.7 L1180.0,889.8 L1180.5,890.8 L1181.0,891.9 L1181.5,892.9 L1182.0,893.9 L1182.5,894.9 L1183.0,895.8 L1183.5,896.7 L1184.0,897.6 L1184.5,898.5 L1185.0,899.3 L1185.5,900.1 L1186.0,900.9 L1186.5,901.6 L1187.0,902.4 L1187.5,903.0 L1188.0,903.7 L1188.5,904.3 L1189.0,904.9 L1189.5,905.5 L1190.0,906.0 L1190.5,906.5 L1191.0,906.9 L1191.5,907.4 L1192.0,907.8 L1192.5,908.2 L1193.0,908.5 L1193.5,908.9 L1194.0,909.2 L1194.5,909.5 L1195.0,909.8 L1195.5,910.0 L1196.0,910.2 L1196.5,910.4 L1197.0,910.6 L1197.5,910.8 L1198.0,911.0 L1198.5,911.1 L1199.0,911.3 L1199.5,911.4 L1200.0,911.5 L1200.5,911.6 L1201.0,911.7 L1201.5,911.8 L1202.0,911.9 L1202.5,911.9 L1203.0,912.0 L1203.5,912.1 L1204.0,912.1 L1204.5,912.2 L1205.0,912.2 L1205.5,912.2 L1206.0,912.3 L1206.5,912.3 L1207.0,912.3 L1207.5,912.3 L1208.0,912.4 L1208.5,912.4 L1209.0,912.4 L1209.5,912.4 L1210.0,912.4 L1210.5,912.4 L1211.0,912.4 L1211.5,912.4 L1212.0,912.5 L1212.5,912.5 L1213.0,912.5 L1213.5,912.5 L1214.0,912.5 L1214.5,912.5 L1215.0,912.5 L1215.5,912.5 L1216.0,912.5 L1216.5,912.5 L1217.0,912.5 L1217.5,912.5 L1218.0,912.5 L1218.5,912.5 L1219.0,912.5 L1219.5,912.5 L1220.0,912.5 L1220.5,912.5 L1221.0,912.5 L1221.5,912.5 L1222.0,912.5 L1222.5,912.5 L1223.0,912.5 L1223.5,912.5 L1224.0,912.5 L1224.5,912.5 L1225.0,912.5 L1225.5,912.5 L1226.0,912.5 L1226.5,912.5 L1227.0,912.5 L1227.5,912.5 L1228.0,912.5 L1228.5,912.5 L1229.0,912.5 L1229.5,912.5 L1230.0,912.5 L1230.5,912.5 L1231.0,912.5 L1231.5,912.5 L1232.0,912.5 L1232.5,912.5 L1233.0,912.5 L1233.5,912.5 L1234.0,912.5 L1234.5,912.5 L1235.0,912.5 L1235.5,912.5 L1243.5,912.5 L1251.5,912.5 L1259.5,912.5 L1267.5,912.5 L1275.5,912.5 L1283.5,912.5 L1291.5,912.5 L1299.5,912.5 L1307.5,912.5 L1315.5,912.5 L1319.0,912.5" fill="none" stroke="#00f" stroke-width="5.5" stroke-linejoin="round"/>
<path d="M136.0,912.5 L144.0,912.5 L144.5,912.5 L145.0,912.5 L145.5,912.5 L146.0,912.5 L146.5,912.5 L147.0,912.5 L147.5,912.5 L148.0,912.5 L148.5,912.5 L149.0,912.5 L149.5,912.5 L150.0,912.5 L150.5,912.5 L151.0,912.5 L151.5,912.5 L152.0,912.5 L152.5,912.5 L153.0,912.5 L153.5,912.4 L154.0,912.4 L154.5,912.4 L155.0,912.4 L155.5,912.4 L156.0,912.4 L156.5,912.4 L157.0,912.4 L157.5,912.3 L158.0,912.3 L158.5,912.3 L159.0,912.3 L159.5,912.2 L160.0,912.2 L160.5,912.2 L161.0,912.1 L161.5,912.1 L162.0,912.0 L162.5,912.0 L163.0,911.9 L163.5,911.8 L164.0,911.8 L164.5,911.7 L165.0,911.6 L165.5,911.5 L166.0,911.4 L166.5,911.3 L167.0,911.1 L167.5,911.0 L168.0,910.8 L168.5,910.6 L169.0,910.5 L169.5,910.2 L170.0,910.0 L170.5,909.8 L171.0,909.5 L171.5,909.2 L172.0,908.9 L172.5,908.6 L173.0,908.3 L173.5,907.9 L174.0,907.5 L174.5,907.1 L175.0,906.6 L175.5,906.1 L176.0,905.6 L176.5,905.1 L177.0,904.5 L177.5,903.8 L178.0,903.2 L178.5,902.5 L179.0,901.8 L179.5,901.0 L180.0,900.2 L180.5,899.3 L181.0,898.4 L181.5,897.5 L182.0,896.5 L182.5,895.5 L183.0,894.4 L183.5,893.3 L184.0,892.2 L184.5,891.0 L185.0,889.7 L185.5,888.5 L186.0,887.2 L186.5,885.8 L187.0,884.4 L187.5,883.0 L188.0,881.6 L188.5,880.1 L189.0,878.6 L189.5,877.1 L190.0,875.6 L190.5,874.0 L191.0,872.4 L191.5,870.8 L192.0,869.2 L192.5,867.6 L193.0,866.0 L193.5,864.4 L194.0,862.8 L194.5,861.2 L195.0,859.7 L195.5,858.2 L196.0,856.6 L196.5,855.2 L197.0,853.7 L197.5,852.3 L198.0,851.0 L198.5,849.6 L199.0,848.4 L199.5,847.2 L200.0,846.1 L200.5,845.0 L201.0,844.0 L201.5,843.1 L202.0,842.2 L202.5,841.5 L203.0,840.8 L203.5,840.2 L204.0,839.7 L204.5,839.3 L205.0,838.9 L205.5,838.7 L206.0,838.5 L206.5,838.5 L207.0,838.5 L207.5,838.7 L208.0,838.9 L208.5,839.3 L209.0,839.7 L209.5,840.2 L210.0,840.8 L210.5,841.5 L211.0,842.2 L211.5,843.1 L212.0,844.0 L212.5,845.0 L213.0,846.1 L213.5,847.2 L214.0,848.4 L214.5,849.6 L215.0,851.0 L215.5,852.3 L216.0,853.7 L216.5,855.2 L217.0,856.6 L217.5,858.2 L218.0,859.7 L218.5,861.2 L219.0,862.8 L219.5,864.4 L220.0,866.0 L220.5,867.6 L221.0,869.2 L221.5,870.8 L222.0,872.4 L222.5,874.0 L223.0,875.6 L223.5,877.1 L224.0,878.6 L224.5,880.1 L225.0,881.6 L225.5,883.0 L226.0,884.4 L226.5,885.8 L227.0,887.2 L227.5,888.5 L228.0,889.7 L228.5,891.0 L229.0,892.2 L229.5,893.3 L230.0,894.4 L230.5,895.5 L231.0,896.5 L231.5,897.5 L232.0,898.4 L232.5,899.3 L233.0,900.2 L233.5,901.0 L234.0,901.8 L234.5,902.5 L235.0,903.2 L235.5,903.8 L236.0,904.5 L236.5,905.1 L237.0,905.6 L237.5,906.1 L238.0,906.6 L238.5,907.1 L239.0,907.5 L239.5,907.9 L240.0,908.3 L240.5,908.6 L241.0,908.9 L241.5,909.2 L242.0,909.5 L242.5,909.8 L243.0,910.0 L243.5,910.2 L244.0,910.5 L244.5,910.6 L245.0,910.8 L245.5,911.0 L246.0,911.1 L246.5,911.3 L247.0,911.4 L247.5,911.5 L248.0,911.6 L248.5,911.7 L249.0,911.8 L249.5,911.8 L250.0,911.9 L250.5,912.0 L251.0,912.0 L251.5,912.1 L252.0,912.1 L252.5,912.2 L253.0,912.2 L253.5,912.2 L254.0,912.3 L254.5,912.3 L255.0,912.3 L255.5,912.3 L256.0,912.4 L256.5,912.4 L257.0,912.4 L257.5,912.4 L258.0,912.4 L258.5,912.4 L259.0,912.4 L259.5,912.4 L260.0,912.5 L260.5,912.5 L261.0,912.5 L261.5,912.5 L262.0,912.5 L262.5,912.5 L263.0,912.5 L263.5,912.5 L264.0,912.5 L264.5,912.5 L265.0,912.5 L265.5,912.5 L266.0,912.5 L266.5,912.5 L267.0,912.5 L267.5,912.5 L268.0,912.5 L268.5,912.5 L269.0,912.5 L269.5,912.5 L270.0,912.5 L270.5,912.5 L271.0,912.5 L271.5,912.5 L272.0,912.5 L272.5,912.5 L273.0,912.5 L273.5,912.5 L274.0,912.5 L274.5,912.5 L275.0,912.5 L275.5,912.5 L276.0,912.5 L276.5,912.5 L284.5,912.5 L292.5,912.5 L300.5,912.5 L308.5,912.5 L316.5,912.5 L324.5,912.5 L332.5,912.5 L340.5,912.5 L348.5,912.5 L349.0,912.5 L349.5,912.5 L350.0,912.5 L350.5,912.5 L351.0,912.5 L351.5,912.5 L352.0,912.5 L352.5,912.5 L353.0,912.5 L353.5,912.5 L354.0,912.5 L354.5,912.5 L355.0,912.5 L355.5,912.5 L356.0,912.5 L356.5,912.5 L357.0,912.5 L357.5,912.5 L358.0,912.4 L358.5,912.4 L359.0,912.4 L359.5,912.4 L360.0,912.4 L360.5,912.4 L361.0,912.4 L361.5,912.4 L362.0,912.4 L362.5,912.3 L363.0,912.3 L363.5,912.3 L364.0,912.3 L364.5,912.2 L365.0,912.2 L365.5,912.2 L366.0,912.1 L366.5,912.1 L367.0,912.0 L367.5,912.0 L368.0,911.9 L368.5,911.8 L369.0,911.8 L369.5,911.7 L370.0,911.6 L370.5,911.5 L371.0,911.4 L371.5,911.3 L372.0,911.1 L372.5,911.0 L373.0,910.8 L373.5,910.7 L374.0,910.5 L374.5,910.3 L375.0,910.1 L375.5,909.8 L376.0,909.6 L376.5,909.3 L377.0,909.0 L377.5,908.7 L378.0,908.4 L378.5,908.0 L379.0,907.6 L379.5,907.2 L380.0,906.8 L380.5,906.3 L381.0,905.8 L381.5,905.3 L382.0,904.7 L382.5,904.1 L383.0,903.5 L383.5,902.8 L384.0,902.1 L384.5,901.4 L385.0,900.6 L385.5,899.8 L386.0,899.0 L386.5,898.1 L387.0,897.2 L387.5,896.2 L388.0,895.3 L388.5,894.2 L389.0,893.2 L389.5,892.0 L390.0,890.9 L390.5,889.7 L391.0,888.5 L391.5,887.3 L392.0,886.0 L392.5,884.7 L393.0,883.4 L393.5,882.1 L394.0,880.7 L394.5,879.3 L395.0,877.9 L395.5,876.5 L396.0,875.0 L396.5,873.6 L397.0,872.2 L397.5,870.7 L398.0,869.3 L398.5,867.9 L399.0,866.4 L399.5,865.0 L400.0,863.7 L400.5,862.3 L401.0,861.0 L401.5,859.7 L402.0,858.4 L402.5,857.2 L403.0,856.0 L403.5,854.9 L404.0,853.8 L404.5,852.8 L405.0,851.8 L405.5,850.9 L406.0,850.1 L406.5,849.3 L407.0,848.7 L407.5,848.0 L408.0,847.5 L408.5,847.1 L409.0,846.7 L409.5,846.4 L410.0,846.2 L410.5,846.0 L411.0,846.0 L411.5,846.0 L412.0,846.2 L412.5,846.4 L413.0,846.7 L413.5,847.1 L414.0,847.5 L414.5,848.0 L415.0,848.7 L415.5,849.3 L416.0,850.1 L416.5,850.9 L417.0,851.8 L417.5,852.8 L418.0,853.8 L418.5,854.9 L419.0,856.0 L419.5,857.2 L420.0,858.4 L420.5,859.7 L421.0,861.0 L421.5,862.3 L422.0,863.7 L422.5,865.0 L423.0,866.4 L423.5,867.9 L424.0,869.3 L424.5,870.7 L425.0,872.2 L425.5,873.6 L426.0,875.0 L426.5,876.5 L427.0,877.9 L427.5,879.3 L428.0,880.7 L428.5,882.1 L429.0,883.4 L429.5,884.7 L430.0,886.0 L430.5,887.3 L431.0,888.5 L431.5,889.7 L432.0,890.9 L432.5,892.0 L433.0,893.2 L433.5,894.2 L434.0,895.3 L434.5,896.2 L435.0,897.2 L435.5,898.1 L436.0,899.0 L436.5,899.8 L437.0,900.6 L437.5,901.4 L438.0,902.1 L438.5,902.8 L439.0,903.5 L439.5,904.1 L440.0,904.7 L440.5,905.3 L441.0,905.8 L441.5,906.3 L442.0,906.8 L442.5,907.2 L443.0,907.6 L443.5,908.0 L444.0,908.4 L444.5,908.7 L445.0,909.0 L445.5,909.3 L446.0,909.6 L446.5,909.8 L447.0,910.1 L447.5,910.3 L448.0,910.5 L448.5,910.7 L449.0,910.8 L449.5,911.0 L450.0,911.1 L450.5,911.3 L451.0,911.4 L451.5,911.5 L452.0,911.6 L452.5,911.7 L453.0,911.8 L453.5,911.8 L454.0,911.9 L454.5,912.0 L455.0,912.0 L455.5,912.1 L456.0,912.1 L456.5,912.2 L457.0,912.2 L457.5,912.2 L458.0,912.3 L458.5,912.3 L459.0,912.3 L459.5,912.3 L460.0,912.4 L460.5,912.4 L461.0,912.4 L461.5,912.4 L462.0,912.4 L462.5,912.4 L463.0,912.4 L463.5,912.4 L464.0,912.4 L464.5,912.5 L465.0,912.5 L465.5,912.5 L466.0,912.5 L466.5,912.5 L467.0,912.5 L467.5,912.5 L468.0,912.5 L468.5,912.5 L469.0,912.5 L469.5,912.5 L470.0,912.5 L470.5,912.5 L471.0,912.5 L471.5,912.5 L472.0,912.5 L472.5,912.5 L473.0,912.5 L473.5,912.5 L474.0,912.5 L474.5,912.5 L475.0,912.5 L475.5,912.5 L476.0,912.5 L476.5,912.5 L477.0,912.5 L477.5,912.5 L478.0,912.5 L478.5,912.5 L479.0,912.5 L479.5,912.5 L480.0,912.5 L480.5,912.5 L481.0,912.5 L489.0,912.5 L497.0,912.5 L505.0,912.5 L513.0,912.5 L521.0,912.5 L529.0,912.5 L537.0,912.5 L545.0,912.5 L553.0,912.5 L561.0,912.5 L569.0,912.5 L577.0,912.5 L585.0,912.5 L593.0,912.5 L601.0,912.5 L609.0,912.5 L617.0,912.5 L625.0,912.5 L633.0,912.5 L641.0,912.5 L649.0,912.5 L657.0,912.5 L665.0,912.5 L673.0,912.5 L681.0,912.5 L689.0,912.5 L697.0,912.5 L705.0,912.5 L713.0,912.5 L721.0,912.5 L729.0,912.5 L737.0,912.5 L745.0,912.5 L753.0,912.5 L761.0,912.5 L769.0,912.5 L777.0,912.5 L785.0,912.5 L793.0,912.5 L801.0,912.5 L809.0,912.5 L817.0,912.5 L825.0,912.5 L833.0,912.5 L841.0,912.5 L849.0,912.5 L857.0,912.5 L865.0,912.5 L873.0,912.5 L881.0,912.5 L889.0,912.5 L897.0,912.5 L905.0,912.5 L913.0,912.5 L921.0,912.5 L929.0,912.5 L937.0,912.5 L945.0,912.5 L953.0,912.5 L961.0,912.5 L969.0,912.5 L977.0,912.5 L985.0,912.5 L993.0,912.5 L1001.0,912.5 L1009.0,912.5 L1017.0,912.5 L1025.0,912.5 L1033.0,912.5 L1041.0,912.5 L1049.0,912.5 L1057.0,912.5 L1065.0,912.5 L1073.0,912.5 L1081.0,912.5 L1089.0,912.5 L1097.0,912.5 L1097.5,912.5 L1098.0,912.5 L1098.5,912.5 L1099.0,912.5 L1099.5,912.5 L1100.0,912.5 L1100.5,912.5 L1101.0,912.5 L1101.5,912.5 L1102.0,912.5 L1102.5,912.5 L1103.0,912.5 L1103.5,912.5 L1104.0,912.5 L1104.5,912.5 L1105.0,912.5 L1105.5,912.5 L1106.0,912.5 L1106.5,912.5 L1107.0,912.5 L1107.5,912.5 L1108.0,912.5 L1108.5,912.5 L1109.0,912.5 L1109.5,912.5 L1110.0,912.5 L1110.5,912.5 L1111.0,912.5 L1111.5,912.5 L1112.0,912.5 L1112.5,912.5 L1113.0,912.4 L1113.5,912.4 L1114.0,912.4 L1114.5,912.4 L1115.0,912.4 L1115.5,912.4 L1116.0,912.4 L1116.5,912.4 L1117.0,912.4 L1117.5,912.3 L1118.0,912.3 L1118.5,912.3 L1119.0,912.3 L1119.5,912.2 L1120.0,912.2 L1120.5,912.2 L1121.0,912.1 L1121.5,912.1 L1122.0,912.0 L1122.5,912.0 L1123.0,911.9 L1123.5,911.9 L1124.0,911.8 L1124.5,911.7 L1125.0,911.6 L1125.5,911.5 L1126.0,911.4 L1126.5,911.3 L1127.0,911.2 L1127.5,911.0 L1128.0,910.9 L1128.5,910.7 L1129.0,910.5 L1129.5,910.4 L1130.0,910.2 L1130.5,909.9 L1131.0,909.7 L1131.5,909.4 L1132.0,909.2 L1132.5,908.9 L1133.0,908.5 L1133.5,908.2 L1134.0,907.8 L1134.5,907.5 L1135.0,907.0 L1135.5,906.6 L1136.0,906.1 L1136.5,905.7 L1137.0,905.1 L1137.5,904.6 L1138.0,904.0 L1138.5,903.4 L1139.0,902.7 L1139.5,902.1 L1140.0,901.4 L1140.5,900.6 L1141.0,899.8 L1141.5,899.0 L1142.0,898.2 L1142.5,897.3 L1143.0,896.4 L1143.5,895.5 L1144.0,894.5 L1144.5,893.5 L1145.0,892.5 L1145.5,891.4 L1146.0,890.3 L1146.5,889.2 L1147.0,888.1 L1147.5,886.9 L1148.0,885.7 L1148.5,884.5 L1149.0,883.3 L1149.5,882.1 L1150.0,880.8 L1150.5,879.5 L1151.0,878.3 L1151.5,877.0 L1152.0,875.8 L1152.5,874.5 L1153.0,873.2 L1153.5,872.0 L1154.0,870.8 L1154.5,869.5 L1155.0,868.3 L1155.5,867.2 L1156.0,866.0 L1156.5,864.9 L1157.0,863.8 L1157.5,862.8 L1158.0,861.8 L1158.5,860.9 L1159.0,860.0 L1159.5,859.1 L1160.0,858.3 L1160.5,857.6 L1161.0,856.9 L1161.5,856.3 L1162.0,855.8 L1162.5,855.3 L1163.0,854.9 L1163.5,854.6 L1164.0,854.3 L1164.5,854.1 L1165.0,854.0 L1165.5,854.0 L1166.0,854.0 L1166.5,854.1 L1167.0,854.3 L1167.5,854.6 L1168.0,854.9 L1168.5,855.3 L1169.0,855.8 L1169.5,856.3 L1170.0,856.9 L1170.5,857.6 L1171.0,858.3 L1171.5,859.1 L1172.0,860.0 L1172.5,860.9 L1173.0,861.8 L1173.5,862.8 L1174.0,863.8 L1174.5,864.9 L1175.0,866.0 L1175.5,867.2 L1176.0,868.3 L1176.5,869.5 L1177.0,870.8 L1177.5,872.0 L1178.0,873.2 L1178.5,874.5 L1179.0,875.8 L1179.5,877.0 L1180.0,878.3 L1180.5,879.5 L1181.0,880.8 L1181.5,882.1 L1182.0,883.3 L1182.5,884.5 L1183.0,885.7 L1183.5,886.9 L1184.0,888.1 L1184.5,889.2 L1185.0,890.3 L1185.5,891.4 L1186.0,892.5 L1186.5,893.5 L1187.0,894.5 L1187.5,895.5 L1188.0,896.4 L1188.5,897.3 L1189.0,898.2 L1189.5,899.0 L1190.0,899.8 L1190.5,900.6 L1191.0,901.4 L1191.5,902.1 L1192.0,902.7 L1192.5,903.4 L1193.0,904.0 L1193.5,904.6 L1194.0,905.1 L1194.5,905.7 L1195.0,906.1 L1195.5,906.6 L1196.0,907.0 L1196.5,907.5 L1197.0,907.8 L1197.5,908.2 L1198.0,908.5 L1198.5,908.9 L1199.0,909.2 L1199.5,909.4 L1200.0,909.7 L1200.5,909.9 L1201.0,910.2 L1201.5,910.4 L1202.0,910.5 L1202.5,910.7 L1203.0,910.9 L1203.5,911.0 L1204.0,911.2 L1204.5,911.3 L1205.0,911.4 L1205.5,911.5 L1206.0,911.6 L1206.5,911.7 L1207.0,911.8 L1207.5,911.9 L1208.0,911.9 L1208.5,912.0 L1209.0,912.0 L1209.5,912.1 L1210.0,912.1 L1210.5,912.2 L1211.0,912.2 L1211.5,912.2 L1212.0,912.3 L1212.5,912.3 L1213.0,912.3 L1213.5,912.3 L1214.0,912.4 L1214.5,912.4 L1215.0,912.4 L1215.5,912.4 L1216.0,912.4 L1216.5,912.4 L1217.0,912.4 L1217.5,912.4 L1218.0,912.4 L1218.5,912.5 L1219.0,912.5 L1219.5,912.5 L1220.0,912.5 L1220.5,912.5 L1221.0,912.5 L1221.5,912.5 L1222.0,912.5 L1222.5,912.5 L1223.0,912.5 L1223.5,912.5 L1224.0,912.5 L1224.5,912.5 L1225.0,912.5 L1225.5,912.5 L1226.0,912.5 L1226.5,912.5 L1227.0,912.5 L1227.5,912.5 L1228.0,912.5 L1228.5,912.5 L1229.0,912.5 L1229.5,912.5 L1230.0,912.5 L1230.5,912.5 L1231.0,912.5 L1231.5,912.5 L1232.0,912.5 L1232.5,912.5 L1233.0,912.5 L1233.5,912.5 L1234.0,912.5 L1234.5,912.5 L1235.0,912.5 L1235.5,912.5 L1243.5,912.5 L1251.5,912.5 L1259.5,912.5 L1267.5,912.5 L1275.5,912.5 L1283.5,912.5 L1291.5,912.5 L1299.5,912.5 L1307.5,912.5 L1315.5,912.5 L1319.0,912.5" fill="none" stroke="#f0f" stroke-width="5.2" stroke-linejoin="round"/>
<rect x="633.2" y="4.7" width="285" height="238.5" fill="#fff" stroke="#8a8a8a" stroke-width="2.2"/>
<line x1="649.4" y1="38.8" x2="754.1" y2="38.8" stroke="#000" stroke-width="7" stroke-linecap="round"/>
<text x="766.5" y="54.3" font-size="48" font-weight="bold" letter-spacing="0.7">Total</text>
<line x1="648.9" y1="98" x2="754.6" y2="98" stroke="#f00" stroke-width="6" stroke-linecap="round"/>
<text x="766.5" y="113.9" font-size="48" font-weight="bold">I</text>
<line x1="649.15" y1="157" x2="754.35" y2="157" stroke="#00f" stroke-width="6.5" stroke-linecap="round"/>
<text x="766.5" y="173.5" font-size="48" font-weight="bold">II</text>
<line x1="648.9" y1="216.5" x2="754.6" y2="216.5" stroke="#f0f" stroke-width="6" stroke-linecap="round"/>
<text x="766.5" y="233.1" font-size="48" font-weight="bold">others</text>
<text x="424.6" y="144.3" font-size="52.5" stroke="#000" stroke-width="0.9">HOMO</text>
<text x="985.4" y="140.1" font-size="50.5" stroke="#000" stroke-width="0.9">LUMO</text>
<text x="690.5" y="837.9" font-size="50.6" stroke="#000" stroke-width="0.8">1.459eV</text>
<text x="573.3" y="1004.6" font-size="55.8" font-weight="bold">Energy (eV)</text>
<text transform="translate(40.3,560.5) rotate(-90) scale(0.935,1)" font-size="50.5" font-weight="bold">DOS</text>
<g fill="#000" stroke="none"><path d="M465,848.3 L477,841.5 L477,855 Z"/><path d="M1127,848.3 L1114,841.5 L1114,855 Z"/></g>
<line x1="470" y1="848.3" x2="1120" y2="848.3" stroke="#000" stroke-width="3.4"/>
<defs>
<radialGradient id="gC" cx="50%" cy="50%" r="50%" fx="42%" fy="38%"><stop offset="0%" stop-color="#c8ffff"/><stop offset="25%" stop-color="#80f0f0"/><stop offset="55%" stop-color="#50cccc"/><stop offset="80%" stop-color="#3a9090"/><stop offset="93%" stop-color="#2a5a5a"/><stop offset="100%" stop-color="#203030"/></radialGradient>
<radialGradient id="gH" cx="50%" cy="50%" r="50%" fx="42%" fy="38%"><stop offset="0%" stop-color="#ffffff"/><stop offset="55%" stop-color="#fafafa"/><stop offset="75%" stop-color="#dcdcdc"/><stop offset="88%" stop-color="#909090"/><stop offset="100%" stop-color="#484848"/></radialGradient>
<radialGradient id="gN" cx="50%" cy="50%" r="50%" fx="42%" fy="38%"><stop offset="0%" stop-color="#8080ff"/><stop offset="35%" stop-color="#2828ff"/><stop offset="75%" stop-color="#1010d0"/><stop offset="92%" stop-color="#000080"/><stop offset="100%" stop-color="#000030"/></radialGradient>
<radialGradient id="gO" cx="50%" cy="50%" r="50%" fx="42%" fy="38%"><stop offset="0%" stop-color="#ff9c9c"/><stop offset="30%" stop-color="#f03030"/><stop offset="70%" stop-color="#c81818"/><stop offset="90%" stop-color="#801010"/><stop offset="100%" stop-color="#300000"/></radialGradient>
</defs><g>
<line x1="620.5" y1="377" x2="634.5" y2="374.0" stroke="#e02020" stroke-width="4.4"/>
<line x1="634.5" y1="374.0" x2="648.4" y2="371" stroke="#5cdada" stroke-width="4.4"/>
<line x1="631.4" y1="354.9" x2="639.9" y2="362.9" stroke="#e0e0e0" stroke-width="3.5"/>
<line x1="639.9" y1="362.9" x2="648.4" y2="371" stroke="#5cdada" stroke-width="3.5"/>
<line x1="648.4" y1="371" x2="653.5" y2="385.3" stroke="#5cdada" stroke-width="4.4"/>
<line x1="646" y1="378" x2="661.8" y2="375.2" stroke="#e0e0e0" stroke-width="3.5"/>
<line x1="661.8" y1="375.2" x2="677.5" y2="372.4" stroke="#5cdada" stroke-width="3.5"/>
<line x1="653.5" y1="385.3" x2="661.9" y2="394" stroke="#5cdada" stroke-width="4.4"/>
<line x1="661.9" y1="394" x2="676" y2="409.8" stroke="#5cdada" stroke-width="4.4"/>
<line x1="676" y1="409.8" x2="683.4" y2="420.6" stroke="#5cdada" stroke-width="4.4"/>
<line x1="683.4" y1="420.6" x2="689.2" y2="429.4" stroke="#5cdada" stroke-width="4.4"/>
<line x1="689.2" y1="429.4" x2="697.5" y2="446.2" stroke="#5cdada" stroke-width="4.4"/>
<line x1="683.9" y1="343" x2="680.7" y2="357.7" stroke="#e0e0e0" stroke-width="3.5"/>
<line x1="680.7" y1="357.7" x2="677.5" y2="372.4" stroke="#5cdada" stroke-width="3.5"/>
<line x1="677.5" y1="372.4" x2="679.5" y2="376.9" stroke="#5cdada" stroke-width="4.4"/>
<line x1="679.5" y1="376.9" x2="681.5" y2="381.5" stroke="#2020f0" stroke-width="4.4"/>
<line x1="681.5" y1="381.5" x2="693.4" y2="382.6" stroke="#2020f0" stroke-width="3.5"/>
<line x1="693.4" y1="382.6" x2="705.3" y2="383.6" stroke="#e0e0e0" stroke-width="3.5"/>
<line x1="677.5" y1="372.4" x2="703" y2="401.7" stroke="#5cdada" stroke-width="4.4"/>
<line x1="703" y1="401.7" x2="725.6" y2="424.5" stroke="#5cdada" stroke-width="4.4"/>
<line x1="725.6" y1="424.5" x2="741" y2="441" stroke="#5cdada" stroke-width="4.4"/>
<line x1="743.8" y1="404.8" x2="749.6" y2="415.9" stroke="#e0e0e0" stroke-width="3.5"/>
<line x1="749.6" y1="415.9" x2="755.5" y2="427" stroke="#5cdada" stroke-width="3.5"/>
<line x1="755.5" y1="427" x2="741" y2="441" stroke="#5cdada" stroke-width="4.4"/>
<line x1="741" y1="441" x2="730.8" y2="448.7" stroke="#5cdada" stroke-width="4.4"/>
<line x1="755.5" y1="427" x2="786.3" y2="419.7" stroke="#5cdada" stroke-width="4.4"/>
<line x1="786.3" y1="419.7" x2="784.2" y2="410.5" stroke="#5cdada" stroke-width="3.5"/>
<line x1="784.2" y1="410.5" x2="782.1" y2="401.4" stroke="#e0e0e0" stroke-width="3.5"/>
<line x1="786.3" y1="419.7" x2="795.0" y2="413.0" stroke="#5cdada" stroke-width="3.5"/>
<line x1="795.0" y1="413.0" x2="803.7" y2="406.4" stroke="#e0e0e0" stroke-width="3.5"/>
<line x1="786.3" y1="419.7" x2="805.4" y2="449.5" stroke="#5cdada" stroke-width="4.4"/>
<line x1="805.4" y1="449.5" x2="816.2" y2="447.4" stroke="#5cdada" stroke-width="3.5"/>
<line x1="816.2" y1="447.4" x2="827" y2="445.4" stroke="#e0e0e0" stroke-width="3.5"/>
<line x1="805.4" y1="449.5" x2="809.1" y2="457.8" stroke="#5cdada" stroke-width="3.5"/>
<line x1="809.1" y1="457.8" x2="812.8" y2="466.1" stroke="#e0e0e0" stroke-width="3.5"/>
<line x1="805.4" y1="449.5" x2="780" y2="474.3" stroke="#5cdada" stroke-width="4.4"/>
<line x1="780" y1="474.3" x2="744.8" y2="471.5" stroke="#5cdada" stroke-width="4.4"/>
<line x1="744.8" y1="471.5" x2="730.8" y2="448.7" stroke="#5cdada" stroke-width="4.4"/>
<line x1="730.8" y1="448.7" x2="697.5" y2="446.2" stroke="#5cdada" stroke-width="4.4"/>
<line x1="697.5" y1="446.2" x2="673" y2="464.7" stroke="#5cdada" stroke-width="4.4"/>
<line x1="673" y1="464.7" x2="636.5" y2="465" stroke="#5cdada" stroke-width="4.4"/>
<line x1="636.5" y1="465" x2="631.2" y2="456.4" stroke="#5cdada" stroke-width="3.5"/>
<line x1="631.2" y1="456.4" x2="626" y2="447.9" stroke="#e0e0e0" stroke-width="3.5"/>
<line x1="636.5" y1="465" x2="612" y2="486.6" stroke="#5cdada" stroke-width="4.4"/>
<line x1="612" y1="486.6" x2="597.9" y2="485.8" stroke="#5cdada" stroke-width="3.5"/>
<line x1="597.9" y1="485.8" x2="583.8" y2="484.9" stroke="#e0e0e0" stroke-width="3.5"/>
<line x1="612" y1="486.6" x2="626.1" y2="511.5" stroke="#5cdada" stroke-width="4.4"/>
<line x1="626.1" y1="511.5" x2="663.5" y2="512.3" stroke="#5cdada" stroke-width="4.4"/>
<line x1="663.5" y1="512.3" x2="670.5" y2="522.2" stroke="#5cdada" stroke-width="3.5"/>
<line x1="670.5" y1="522.2" x2="677.6" y2="532.2" stroke="#e0e0e0" stroke-width="3.5"/>
<line x1="663.5" y1="512.3" x2="686.6" y2="489.1" stroke="#5cdada" stroke-width="4.4"/>
<line x1="686.6" y1="489.1" x2="673" y2="464.7" stroke="#5cdada" stroke-width="4.4"/>
<line x1="686.6" y1="489.1" x2="704.5" y2="490.0" stroke="#5cdada" stroke-width="4.4"/>
<line x1="704.5" y1="490.0" x2="722.3" y2="490.8" stroke="#e02020" stroke-width="4.4"/>
<line x1="722.3" y1="490.8" x2="733.5" y2="481.1" stroke="#e02020" stroke-width="4.4"/>
<line x1="733.5" y1="481.1" x2="744.8" y2="471.5" stroke="#5cdada" stroke-width="4.4"/>
<line x1="626.1" y1="511.5" x2="612.8" y2="523.1" stroke="#5cdada" stroke-width="4.4"/>
<line x1="612.8" y1="523.1" x2="599.5" y2="534.7" stroke="#2020f0" stroke-width="4.4"/>
<line x1="599.5" y1="534.7" x2="578.8" y2="534.3" stroke="#2020f0" stroke-width="4.4"/>
<line x1="578.8" y1="534.3" x2="558" y2="533.9" stroke="#5cdada" stroke-width="4.4"/>
<line x1="599.5" y1="534.7" x2="606.1" y2="550.0" stroke="#2020f0" stroke-width="4.4"/>
<line x1="606.1" y1="550.0" x2="612.8" y2="565.4" stroke="#5cdada" stroke-width="4.4"/>
<line x1="558" y1="533.9" x2="552.6" y2="519.4" stroke="#5cdada" stroke-width="3.5"/>
<line x1="552.6" y1="519.4" x2="547.2" y2="504.8" stroke="#e0e0e0" stroke-width="3.5"/>
<line x1="558" y1="533.9" x2="527.3" y2="560.4" stroke="#5cdada" stroke-width="4.4"/>
<line x1="527.3" y1="560.4" x2="524.4" y2="556.2" stroke="#5cdada" stroke-width="3.5"/>
<line x1="524.4" y1="556.2" x2="521.5" y2="552.1" stroke="#e0e0e0" stroke-width="3.5"/>
<line x1="527.3" y1="560.4" x2="511.5" y2="558.8" stroke="#5cdada" stroke-width="3.5"/>
<line x1="511.5" y1="558.8" x2="495.8" y2="557.1" stroke="#e0e0e0" stroke-width="3.5"/>
<line x1="527.3" y1="560.4" x2="530.6" y2="576.6" stroke="#5cdada" stroke-width="3.5"/>
<line x1="530.6" y1="576.6" x2="534" y2="592.8" stroke="#e0e0e0" stroke-width="3.5"/>
<line x1="612.8" y1="565.4" x2="624.8" y2="559.6" stroke="#5cdada" stroke-width="3.5"/>
<line x1="624.8" y1="559.6" x2="636.9" y2="553.8" stroke="#e0e0e0" stroke-width="3.5"/>
<line x1="612.8" y1="565.4" x2="600.3" y2="570.4" stroke="#5cdada" stroke-width="3.5"/>
<line x1="600.3" y1="570.4" x2="587.9" y2="575.4" stroke="#e0e0e0" stroke-width="3.5"/>
<line x1="612.8" y1="565.4" x2="629.2" y2="599.7" stroke="#5cdada" stroke-width="4.4"/>
<line x1="629.2" y1="599.7" x2="640.4" y2="594.9" stroke="#5cdada" stroke-width="3.5"/>
<line x1="640.4" y1="594.9" x2="651.6" y2="590" stroke="#e0e0e0" stroke-width="3.5"/>
<line x1="629.2" y1="599.7" x2="617.5" y2="606.0" stroke="#5cdada" stroke-width="3.5"/>
<line x1="617.5" y1="606.0" x2="605.8" y2="612.4" stroke="#e0e0e0" stroke-width="3.5"/>
<line x1="629.2" y1="599.7" x2="635.0" y2="611.5" stroke="#5cdada" stroke-width="3.5"/>
<line x1="635.0" y1="611.5" x2="640.7" y2="623.2" stroke="#e0e0e0" stroke-width="3.5"/>
<line x1="780" y1="474.3" x2="792" y2="501.5" stroke="#5cdada" stroke-width="4.4"/>
<line x1="792" y1="501.5" x2="781.2" y2="510.2" stroke="#5cdada" stroke-width="3.5"/>
<line x1="781.2" y1="510.2" x2="770.5" y2="519" stroke="#e0e0e0" stroke-width="3.5"/>
<line x1="792" y1="501.5" x2="827.8" y2="510.7" stroke="#5cdada" stroke-width="4.4"/>
<line x1="827.8" y1="510.7" x2="838.1" y2="502.4" stroke="#5cdada" stroke-width="3.5"/>
<line x1="838.1" y1="502.4" x2="848.5" y2="494" stroke="#e0e0e0" stroke-width="3.5"/>
<line x1="827.8" y1="510.7" x2="840.2" y2="541.4" stroke="#5cdada" stroke-width="4.4"/>
<line x1="840.2" y1="541.4" x2="881" y2="549.5" stroke="#5cdada" stroke-width="4.4"/>
<line x1="840.2" y1="541.4" x2="814.5" y2="568" stroke="#5cdada" stroke-width="4.4"/>
<line x1="814.5" y1="568" x2="799.5" y2="566.3" stroke="#5cdada" stroke-width="3.5"/>
<line x1="799.5" y1="566.3" x2="784.6" y2="564.6" stroke="#e0e0e0" stroke-width="3.5"/>
<line x1="814.5" y1="568" x2="827" y2="601.2" stroke="#5cdada" stroke-width="4.4"/>
<line x1="827" y1="601.2" x2="846.7" y2="605.1" stroke="#5cdada" stroke-width="4.4"/>
<line x1="846.7" y1="605.1" x2="866.4" y2="609" stroke="#e02020" stroke-width="4.4"/>
<line x1="866.4" y1="609" x2="879.3" y2="596.2" stroke="#e02020" stroke-width="4.4"/>
<line x1="879.3" y1="596.2" x2="892.2" y2="583.5" stroke="#5cdada" stroke-width="4.4"/>
<line x1="892.2" y1="583.5" x2="881" y2="549.5" stroke="#5cdada" stroke-width="4.4"/>
<line x1="881" y1="549.5" x2="908.5" y2="527" stroke="#5cdada" stroke-width="4.4"/>
<line x1="908.5" y1="527" x2="903.8" y2="515.4" stroke="#5cdada" stroke-width="3.5"/>
<line x1="903.8" y1="515.4" x2="899" y2="503.8" stroke="#e0e0e0" stroke-width="3.5"/>
<line x1="908.5" y1="527" x2="948.1" y2="535.5" stroke="#5cdada" stroke-width="4.4"/>
<line x1="948.1" y1="535.5" x2="962.2" y2="570.7" stroke="#5cdada" stroke-width="4.4"/>
<line x1="962.2" y1="570.7" x2="931.5" y2="593" stroke="#5cdada" stroke-width="4.4"/>
<line x1="931.5" y1="593" x2="892.2" y2="583.5" stroke="#5cdada" stroke-width="4.4"/>
<line x1="931.5" y1="593" x2="936.5" y2="608.0" stroke="#5cdada" stroke-width="3.5"/>
<line x1="936.5" y1="608.0" x2="941.4" y2="623" stroke="#e0e0e0" stroke-width="3.5"/>
<line x1="948.1" y1="535.5" x2="960.5" y2="525.0" stroke="#5cdada" stroke-width="4.4"/>
<line x1="960.5" y1="525.0" x2="973" y2="514.6" stroke="#2020f0" stroke-width="4.4"/>
<line x1="973" y1="514.6" x2="966.4" y2="498.4" stroke="#2020f0" stroke-width="4.4"/>
<line x1="966.4" y1="498.4" x2="959.7" y2="482.2" stroke="#5cdada" stroke-width="4.4"/>
<line x1="959.7" y1="482.2" x2="969.2" y2="478.9" stroke="#5cdada" stroke-width="3.5"/>
<line x1="969.2" y1="478.9" x2="978.8" y2="475.5" stroke="#e0e0e0" stroke-width="3.5"/>
<line x1="959.7" y1="482.2" x2="946.9" y2="485.1" stroke="#5cdada" stroke-width="3.5"/>
<line x1="946.9" y1="485.1" x2="934" y2="488" stroke="#e0e0e0" stroke-width="3.5"/>
<line x1="959.7" y1="482.2" x2="955.5" y2="448.1" stroke="#5cdada" stroke-width="4.4"/>
<line x1="955.5" y1="448.1" x2="950.1" y2="436.9" stroke="#5cdada" stroke-width="3.5"/>
<line x1="950.1" y1="436.9" x2="944.8" y2="425.7" stroke="#e0e0e0" stroke-width="3.5"/>
<line x1="955.5" y1="448.1" x2="969.6" y2="443.6" stroke="#5cdada" stroke-width="3.5"/>
<line x1="969.6" y1="443.6" x2="983.8" y2="439" stroke="#e0e0e0" stroke-width="3.5"/>
<line x1="955.5" y1="448.1" x2="945.1" y2="450.6" stroke="#5cdada" stroke-width="3.5"/>
<line x1="945.1" y1="450.6" x2="934.8" y2="453.1" stroke="#e0e0e0" stroke-width="3.5"/>
<line x1="973" y1="514.6" x2="993.2" y2="516.0" stroke="#2020f0" stroke-width="4.4"/>
<line x1="993.2" y1="516.0" x2="1013.5" y2="517.5" stroke="#5cdada" stroke-width="4.4"/>
<line x1="1013.5" y1="517.5" x2="1038.7" y2="499.3" stroke="#5cdada" stroke-width="4.4"/>
<line x1="1038.7" y1="499.3" x2="1036.3" y2="484.4" stroke="#5cdada" stroke-width="3.5"/>
<line x1="1036.3" y1="484.4" x2="1034" y2="469.4" stroke="#e0e0e0" stroke-width="3.5"/>
<line x1="1038.7" y1="499.3" x2="1054.2" y2="501.4" stroke="#5cdada" stroke-width="3.5"/>
<line x1="1054.2" y1="501.4" x2="1069.8" y2="503.4" stroke="#e0e0e0" stroke-width="3.5"/>
<line x1="1013.5" y1="517.5" x2="1017.0" y2="509.0" stroke="#5cdada" stroke-width="3.5"/>
<line x1="1017.0" y1="509.0" x2="1020.5" y2="500.5" stroke="#e0e0e0" stroke-width="3.5"/>
<line x1="1013.5" y1="517.5" x2="1012.9" y2="509.9" stroke="#5cdada" stroke-width="3.5"/>
<line x1="1012.9" y1="509.9" x2="1012.3" y2="502.2" stroke="#e0e0e0" stroke-width="3.5"/>
<line x1="1031.7" y1="517.5" x2="1044.0" y2="517.2" stroke="#5cdada" stroke-width="3.5"/>
<line x1="1044.0" y1="517.2" x2="1056.3" y2="516.9" stroke="#e0e0e0" stroke-width="3.5"/>
<line x1="1013.5" y1="517.5" x2="1027.6" y2="556.8" stroke="#5cdada" stroke-width="4.4"/>
<line x1="1031.7" y1="517.5" x2="1015.2" y2="553.3" stroke="#5cdada" stroke-width="4.4"/>
<line x1="1013.5" y1="517.5" x2="1031.7" y2="517.5" stroke="#5cdada" stroke-width="4.4"/>
<line x1="962.2" y1="570.7" x2="980.9" y2="576.1" stroke="#5cdada" stroke-width="4.4"/>
<line x1="980.9" y1="576.1" x2="999.5" y2="581.5" stroke="#2020f0" stroke-width="4.4"/>
<line x1="999.5" y1="581.5" x2="1013.5" y2="569.1" stroke="#2020f0" stroke-width="4.4"/>
<line x1="1013.5" y1="569.1" x2="1027.6" y2="556.8" stroke="#5cdada" stroke-width="4.4"/>
<line x1="999.5" y1="581.5" x2="1008.2" y2="600.6" stroke="#2020f0" stroke-width="4.4"/>
<line x1="1008.2" y1="600.6" x2="1017" y2="619.7" stroke="#5cdada" stroke-width="4.4"/>
<line x1="1015.2" y1="553.3" x2="1001.1" y2="553.6" stroke="#5cdada" stroke-width="3.5"/>
<line x1="1001.1" y1="553.6" x2="987" y2="553.9" stroke="#e0e0e0" stroke-width="3.5"/>
<line x1="1027.6" y1="556.8" x2="1042.2" y2="557.1" stroke="#5cdada" stroke-width="3.5"/>
<line x1="1042.2" y1="557.1" x2="1056.9" y2="557.4" stroke="#e0e0e0" stroke-width="3.5"/>
<line x1="1027.6" y1="556.8" x2="1035.2" y2="575.7" stroke="#5cdada" stroke-width="4.4"/>
<line x1="1035.2" y1="575.7" x2="1051.0" y2="576.5" stroke="#5cdada" stroke-width="3.5"/>
<line x1="1051.0" y1="576.5" x2="1066.8" y2="577.3" stroke="#e0e0e0" stroke-width="3.5"/>
<line x1="1035.2" y1="575.7" x2="1046.5" y2="583.2" stroke="#5cdada" stroke-width="3.5"/>
<line x1="1046.5" y1="583.2" x2="1057.7" y2="590.6" stroke="#e0e0e0" stroke-width="3.5"/>
<line x1="1035.2" y1="575.7" x2="1032.7" y2="614.7" stroke="#5cdada" stroke-width="4.4"/>
<line x1="1032.7" y1="614.7" x2="1028.6" y2="608.9" stroke="#5cdada" stroke-width="3.5"/>
<line x1="1028.6" y1="608.9" x2="1024.4" y2="603" stroke="#e0e0e0" stroke-width="3.5"/>
<line x1="1017" y1="619.7" x2="1009.5" y2="613.0" stroke="#5cdada" stroke-width="3.5"/>
<line x1="1009.5" y1="613.0" x2="1002" y2="606.4" stroke="#e0e0e0" stroke-width="3.5"/>
<line x1="1017" y1="619.7" x2="1032.7" y2="614.7" stroke="#5cdada" stroke-width="4.4"/>
<line x1="1032.7" y1="614.7" x2="1039.3" y2="620.5" stroke="#5cdada" stroke-width="3.5"/>
<line x1="1039.3" y1="620.5" x2="1046" y2="626.3" stroke="#e0e0e0" stroke-width="3.5"/>
<line x1="1017" y1="619.7" x2="1006.6" y2="630.9" stroke="#5cdada" stroke-width="3.5"/>
<line x1="1006.6" y1="630.9" x2="996.2" y2="642" stroke="#e0e0e0" stroke-width="3.5"/>
<line x1="1032.7" y1="614.7" x2="1040.6" y2="630.9" stroke="#5cdada" stroke-width="3.5"/>
<line x1="1040.6" y1="630.9" x2="1048.5" y2="647" stroke="#e0e0e0" stroke-width="3.5"/>
<line x1="827" y1="601.2" x2="801" y2="635.2" stroke="#5cdada" stroke-width="4.4"/>
<line x1="801" y1="635.2" x2="758.8" y2="627.5" stroke="#5cdada" stroke-width="4.4"/>
<line x1="758.8" y1="627.5" x2="753.0" y2="611.9" stroke="#5cdada" stroke-width="3.5"/>
<line x1="753.0" y1="611.9" x2="747.2" y2="596.3" stroke="#e0e0e0" stroke-width="3.5"/>
<line x1="758.8" y1="627.5" x2="731.3" y2="659.8" stroke="#5cdada" stroke-width="4.4"/>
<line x1="731.3" y1="659.8" x2="715.5" y2="657.3" stroke="#5cdada" stroke-width="3.5"/>
<line x1="715.5" y1="657.3" x2="699.7" y2="654.8" stroke="#e0e0e0" stroke-width="3.5"/>
<line x1="731.3" y1="659.8" x2="747.5" y2="701.3" stroke="#5cdada" stroke-width="4.4"/>
<line x1="747.5" y1="701.3" x2="736.1" y2="715.5" stroke="#5cdada" stroke-width="3.5"/>
<line x1="736.1" y1="715.5" x2="724.7" y2="729.7" stroke="#e0e0e0" stroke-width="3.5"/>
<line x1="747.5" y1="701.3" x2="791.5" y2="707.8" stroke="#5cdada" stroke-width="4.4"/>
<line x1="791.5" y1="707.8" x2="798.6" y2="725.2" stroke="#5cdada" stroke-width="3.5"/>
<line x1="798.6" y1="725.2" x2="805.8" y2="742.6" stroke="#e0e0e0" stroke-width="3.5"/>
<line x1="791.5" y1="707.8" x2="817.5" y2="673.8" stroke="#5cdada" stroke-width="4.4"/>
<line x1="817.5" y1="673.8" x2="832.8" y2="676.9" stroke="#5cdada" stroke-width="3.5"/>
<line x1="832.8" y1="676.9" x2="848" y2="680" stroke="#e0e0e0" stroke-width="3.5"/>
<line x1="817.5" y1="673.8" x2="801" y2="635.2" stroke="#5cdada" stroke-width="4.4"/>
</g><g>
<circle cx="746.4" cy="447.9" r="4.5" fill="url(#gH)"/>
<circle cx="646" cy="378" r="5.5" fill="url(#gH)"/>
<circle cx="803.7" cy="406.4" r="5.5" fill="url(#gH)"/>
<circle cx="812.8" cy="466.1" r="5.5" fill="url(#gH)"/>
<circle cx="1024.4" cy="603" r="5.5" fill="url(#gH)"/>
<circle cx="848" cy="680" r="5.5" fill="url(#gH)"/>
<circle cx="681.5" cy="381.5" r="6.0" fill="url(#gN)"/>
<circle cx="743.8" cy="404.8" r="6.0" fill="url(#gH)"/>
<circle cx="782.1" cy="401.4" r="6.0" fill="url(#gH)"/>
<circle cx="827" cy="445.4" r="6.0" fill="url(#gH)"/>
<circle cx="626" cy="447.9" r="6.0" fill="url(#gH)"/>
<circle cx="583.8" cy="484.9" r="6.0" fill="url(#gH)"/>
<circle cx="521.5" cy="552.1" r="6.0" fill="url(#gH)"/>
<circle cx="770.5" cy="519" r="6.0" fill="url(#gH)"/>
<circle cx="848.5" cy="494" r="6.0" fill="url(#gH)"/>
<circle cx="784.6" cy="564.6" r="6.0" fill="url(#gH)"/>
<circle cx="747.2" cy="596.3" r="6.0" fill="url(#gH)"/>
<circle cx="899" cy="503.8" r="6.0" fill="url(#gH)"/>
<circle cx="934" cy="488" r="6.0" fill="url(#gH)"/>
<circle cx="1056.3" cy="516.9" r="6.0" fill="url(#gH)"/>
<circle cx="1046" cy="626.3" r="6.0" fill="url(#gH)"/>
<circle cx="631.4" cy="354.9" r="6.5" fill="url(#gH)"/>
<circle cx="705.3" cy="383.6" r="6.5" fill="url(#gH)"/>
<circle cx="648.4" cy="371" r="6.5" fill="url(#gC)"/>
<circle cx="677.6" cy="532.2" r="6.5" fill="url(#gH)"/>
<circle cx="547.2" cy="504.8" r="6.5" fill="url(#gH)"/>
<circle cx="495.8" cy="557.1" r="6.5" fill="url(#gH)"/>
<circle cx="636.9" cy="553.8" r="6.5" fill="url(#gH)"/>
<circle cx="651.6" cy="590" r="6.5" fill="url(#gH)"/>
<circle cx="605.8" cy="612.4" r="6.5" fill="url(#gH)"/>
<circle cx="640.7" cy="623.2" r="6.5" fill="url(#gH)"/>
<circle cx="941.4" cy="623" r="6.5" fill="url(#gH)"/>
<circle cx="978.8" cy="475.5" r="6.5" fill="url(#gH)"/>
<circle cx="944.8" cy="425.7" r="6.5" fill="url(#gH)"/>
<circle cx="983.8" cy="439" r="6.5" fill="url(#gH)"/>
<circle cx="934.8" cy="453.1" r="6.5" fill="url(#gH)"/>
<circle cx="1034" cy="469.4" r="6.5" fill="url(#gH)"/>
<circle cx="1020.5" cy="500.5" r="6.5" fill="url(#gH)"/>
<circle cx="1012.3" cy="502.2" r="6.5" fill="url(#gH)"/>
<circle cx="987" cy="553.9" r="6.5" fill="url(#gH)"/>
<circle cx="1056.9" cy="557.4" r="6.5" fill="url(#gH)"/>
<circle cx="1066.8" cy="577.3" r="6.5" fill="url(#gH)"/>
<circle cx="1057.7" cy="590.6" r="6.5" fill="url(#gH)"/>
<circle cx="1002" cy="606.4" r="6.5" fill="url(#gH)"/>
<circle cx="699.7" cy="654.8" r="6.5" fill="url(#gH)"/>
<circle cx="724.7" cy="729.7" r="6.5" fill="url(#gH)"/>
<circle cx="805.8" cy="742.6" r="6.5" fill="url(#gH)"/>
<circle cx="683.9" cy="343" r="7.0" fill="url(#gH)"/>
<circle cx="534" cy="592.8" r="7.0" fill="url(#gH)"/>
<circle cx="587.9" cy="575.4" r="7.0" fill="url(#gH)"/>
<circle cx="1069.8" cy="503.4" r="7.0" fill="url(#gH)"/>
<circle cx="996.2" cy="642" r="7.0" fill="url(#gH)"/>
<circle cx="1048.5" cy="647" r="7.0" fill="url(#gH)"/>
<circle cx="741" cy="441" r="7.5" fill="url(#gC)"/>
<circle cx="676" cy="409.8" r="8.0" fill="url(#gC)"/>
<circle cx="722.3" cy="490.8" r="8.0" fill="url(#gO)"/>
<circle cx="866.4" cy="609" r="8.0" fill="url(#gO)"/>
<circle cx="620.5" cy="377" r="8.5" fill="url(#gO)"/>
<circle cx="689.2" cy="429.4" r="8.5" fill="url(#gC)"/>
<circle cx="786.3" cy="419.7" r="8.5" fill="url(#gC)"/>
<circle cx="805.4" cy="449.5" r="8.5" fill="url(#gC)"/>
<circle cx="730.8" cy="448.7" r="8.5" fill="url(#gC)"/>
<circle cx="697.5" cy="446.2" r="8.5" fill="url(#gC)"/>
<circle cx="973" cy="514.6" r="8.5" fill="url(#gN)"/>
<circle cx="653.5" cy="385.3" r="9.0" fill="url(#gC)"/>
<circle cx="661.9" cy="394" r="9.0" fill="url(#gC)"/>
<circle cx="683.4" cy="420.6" r="9.0" fill="url(#gC)"/>
<circle cx="755.5" cy="427" r="9.0" fill="url(#gC)"/>
<circle cx="636.5" cy="465" r="9.0" fill="url(#gC)"/>
<circle cx="673" cy="464.7" r="9.0" fill="url(#gC)"/>
<circle cx="744.8" cy="471.5" r="9.0" fill="url(#gC)"/>
<circle cx="780" cy="474.3" r="9.0" fill="url(#gC)"/>
<circle cx="686.6" cy="489.1" r="9.0" fill="url(#gC)"/>
<circle cx="599.5" cy="534.7" r="9.0" fill="url(#gN)"/>
<circle cx="792" cy="501.5" r="9.0" fill="url(#gC)"/>
<circle cx="908.5" cy="527" r="9.0" fill="url(#gC)"/>
<circle cx="948.1" cy="535.5" r="9.0" fill="url(#gC)"/>
<circle cx="999.5" cy="581.5" r="9.0" fill="url(#gN)"/>
<circle cx="612" cy="486.6" r="9.5" fill="url(#gC)"/>
<circle cx="626.1" cy="511.5" r="9.5" fill="url(#gC)"/>
<circle cx="663.5" cy="512.3" r="9.5" fill="url(#gC)"/>
<circle cx="827.8" cy="510.7" r="9.5" fill="url(#gC)"/>
<circle cx="840.2" cy="541.4" r="9.5" fill="url(#gC)"/>
<circle cx="881" cy="549.5" r="9.5" fill="url(#gC)"/>
<circle cx="814.5" cy="568" r="9.5" fill="url(#gC)"/>
<circle cx="827" cy="601.2" r="9.5" fill="url(#gC)"/>
<circle cx="892.2" cy="583.5" r="9.5" fill="url(#gC)"/>
<circle cx="931.5" cy="593" r="9.5" fill="url(#gC)"/>
<circle cx="962.2" cy="570.7" r="9.5" fill="url(#gC)"/>
<circle cx="959.7" cy="482.2" r="9.8" fill="url(#gC)"/>
<circle cx="955.5" cy="448.1" r="9.8" fill="url(#gC)"/>
<circle cx="1031.7" cy="517.5" r="9.8" fill="url(#gC)"/>
<circle cx="1015.2" cy="553.3" r="9.8" fill="url(#gC)"/>
<circle cx="1035.2" cy="575.7" r="9.8" fill="url(#gC)"/>
<circle cx="677.5" cy="372.4" r="10.0" fill="url(#gC)"/>
<circle cx="703" cy="401.7" r="10.0" fill="url(#gC)"/>
<circle cx="725.6" cy="424.5" r="10.0" fill="url(#gC)"/>
<circle cx="558" cy="533.9" r="10.3" fill="url(#gC)"/>
<circle cx="527.3" cy="560.4" r="10.3" fill="url(#gC)"/>
<circle cx="612.8" cy="565.4" r="10.3" fill="url(#gC)"/>
<circle cx="629.2" cy="599.7" r="10.3" fill="url(#gC)"/>
<circle cx="1013.5" cy="517.5" r="10.3" fill="url(#gC)"/>
<circle cx="1038.7" cy="499.3" r="10.3" fill="url(#gC)"/>
<circle cx="1027.6" cy="556.8" r="10.3" fill="url(#gC)"/>
<circle cx="1017" cy="619.7" r="10.3" fill="url(#gC)"/>
<circle cx="758.8" cy="627.5" r="10.5" fill="url(#gC)"/>
<circle cx="801" cy="635.2" r="10.5" fill="url(#gC)"/>
<circle cx="731.3" cy="659.8" r="10.5" fill="url(#gC)"/>
<circle cx="817.5" cy="673.8" r="10.5" fill="url(#gC)"/>
<circle cx="747.5" cy="701.3" r="10.5" fill="url(#gC)"/>
<circle cx="791.5" cy="707.8" r="10.5" fill="url(#gC)"/>
<circle cx="1032.7" cy="614.7" r="11.3" fill="url(#gC)"/>
</g>
<ellipse cx="784.1" cy="531.6" rx="172" ry="80.7" transform="rotate(14.9 784.1 531.6)" fill="none" stroke="#f00" stroke-width="6.5"/>
<ellipse cx="772.2" cy="676" rx="84.1" ry="57" transform="rotate(15.5 772.2 676)" fill="none" stroke="#00f" stroke-width="6.5"/>
</svg></body></html>
